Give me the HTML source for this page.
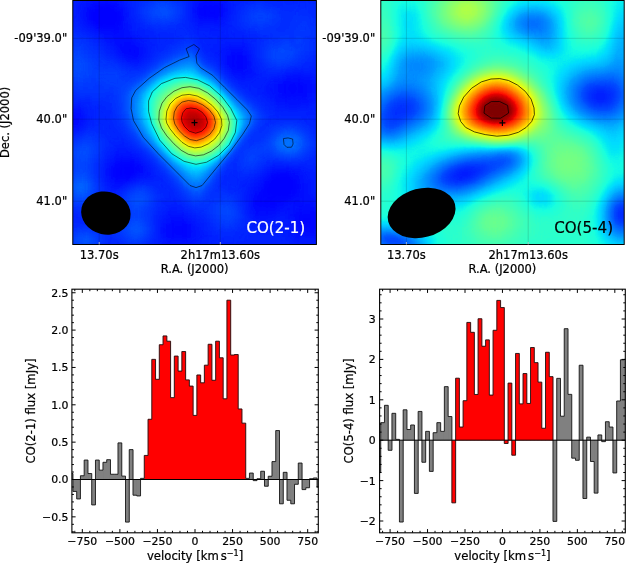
<!DOCTYPE html>
<html><head><meta charset="utf-8"><title>CO spectra</title>
<style>html,body{margin:0;padding:0;background:#fff}svg{display:block;filter:blur(.35px)}text{font-family:"DejaVu Sans", "Liberation Sans", sans-serif;fill:#000;stroke:#000;stroke-width:.22px}</style>
</head><body>
<svg width="626" height="563" viewBox="0 0 626 563">
<defs><clipPath id="clip1"><rect x="72.8" y="0.5" width="243.6" height="244"/></clipPath><filter id="jet1" filterUnits="userSpaceOnUse" x="64.8" y="-7.5" width="260" height="260" color-interpolation-filters="sRGB"><feGaussianBlur stdDeviation="2.5"/><feComponentTransfer><feFuncR type="table" tableValues="0 0 0 0 0 0 0 0 0 0 0 0 0 0 0 0 0 0 0 0 0 0 0 0 0 0 0 0 0 0 0 0 0 0 0 0 0.032 0.065 0.097 0.129 0.161 0.194 0.226 0.258 0.29 0.323 0.355 0.387 0.419 0.452 0.484 0.516 0.548 0.581 0.613 0.645 0.677 0.71 0.742 0.774 0.806 0.839 0.871 0.903 0.935 0.968 1 1 1 1 1 1 1 1 1 1 1 1 1 1 1 1 1 1 1 1 1 1 1 1 0.955 0.909 0.864 0.818 0.773 0.727 0.682 0.636 0.591 0.545 0.5"/><feFuncG type="table" tableValues="0 0 0 0 0 0 0 0 0 0 0 0 0 0.02 0.06 0.1 0.14 0.18 0.22 0.26 0.3 0.34 0.38 0.42 0.46 0.5 0.54 0.58 0.62 0.66 0.7 0.74 0.78 0.82 0.86 0.9 0.94 0.98 1 1 1 1 1 1 1 1 1 1 1 1 1 1 1 1 1 1 1 1 1 1 1 1 1 1 1 0.963 0.926 0.889 0.852 0.815 0.778 0.741 0.704 0.667 0.63 0.593 0.556 0.519 0.481 0.444 0.407 0.37 0.333 0.296 0.259 0.222 0.185 0.148 0.111 0.074 0.037 0 0 0 0 0 0 0 0 0 0"/><feFuncB type="table" tableValues="0.5 0.545 0.591 0.636 0.682 0.727 0.773 0.818 0.864 0.909 0.955 1 1 1 1 1 1 1 1 1 1 1 1 1 1 1 1 1 1 1 1 1 1 1 1 0.968 0.935 0.903 0.871 0.839 0.806 0.774 0.742 0.71 0.677 0.645 0.613 0.581 0.548 0.516 0.484 0.452 0.419 0.387 0.355 0.323 0.29 0.258 0.226 0.194 0.161 0.129 0.097 0.065 0.032 0 0 0 0 0 0 0 0 0 0 0 0 0 0 0 0 0 0 0 0 0 0 0 0 0 0 0 0 0 0 0 0 0 0 0 0"/><feFuncA type="linear" slope="0" intercept="1"/></feComponentTransfer></filter><clipPath id="clip2"><rect x="380.8" y="0.5" width="243.4" height="244"/></clipPath><filter id="jet2" filterUnits="userSpaceOnUse" x="372.8" y="-7.5" width="260" height="260" color-interpolation-filters="sRGB"><feGaussianBlur stdDeviation="2.5"/><feComponentTransfer><feFuncR type="table" tableValues="0 0 0 0 0 0 0 0 0 0 0 0 0 0 0 0 0 0 0 0 0 0 0 0 0 0 0 0 0 0 0 0 0 0 0 0 0.032 0.065 0.097 0.129 0.161 0.194 0.226 0.258 0.29 0.323 0.355 0.387 0.419 0.452 0.484 0.516 0.548 0.581 0.613 0.645 0.677 0.71 0.742 0.774 0.806 0.839 0.871 0.903 0.935 0.968 1 1 1 1 1 1 1 1 1 1 1 1 1 1 1 1 1 1 1 1 1 1 1 1 0.955 0.909 0.864 0.818 0.773 0.727 0.682 0.636 0.591 0.545 0.5"/><feFuncG type="table" tableValues="0 0 0 0 0 0 0 0 0 0 0 0 0 0.02 0.06 0.1 0.14 0.18 0.22 0.26 0.3 0.34 0.38 0.42 0.46 0.5 0.54 0.58 0.62 0.66 0.7 0.74 0.78 0.82 0.86 0.9 0.94 0.98 1 1 1 1 1 1 1 1 1 1 1 1 1 1 1 1 1 1 1 1 1 1 1 1 1 1 1 0.963 0.926 0.889 0.852 0.815 0.778 0.741 0.704 0.667 0.63 0.593 0.556 0.519 0.481 0.444 0.407 0.37 0.333 0.296 0.259 0.222 0.185 0.148 0.111 0.074 0.037 0 0 0 0 0 0 0 0 0 0"/><feFuncB type="table" tableValues="0.5 0.545 0.591 0.636 0.682 0.727 0.773 0.818 0.864 0.909 0.955 1 1 1 1 1 1 1 1 1 1 1 1 1 1 1 1 1 1 1 1 1 1 1 1 0.968 0.935 0.903 0.871 0.839 0.806 0.774 0.742 0.71 0.677 0.645 0.613 0.581 0.548 0.516 0.484 0.452 0.419 0.387 0.355 0.323 0.29 0.258 0.226 0.194 0.161 0.129 0.097 0.065 0.032 0 0 0 0 0 0 0 0 0 0 0 0 0 0 0 0 0 0 0 0 0 0 0 0 0 0 0 0 0 0 0 0 0 0 0 0"/><feFuncA type="linear" slope="0" intercept="1"/></feComponentTransfer></filter></defs>
<rect width="626" height="563" fill="#fff"/>
<g clip-path="url(#clip1)"><g filter="url(#jet1)"><g transform="translate(64.8 -7.5)" stroke-width="4.3" fill="none">
<path stroke="#1d1d1d" d="M36 22h8M36 26h8"/>
<path stroke="#1e1e1e" d="M36 18h8M32 22h4M44 22h4M32 26h4M44 26h4M36 30h8M212 190h12M208 194h16M208 198h12"/>
<path stroke="#1f1f1f" d="M32 18h4M44 18h4M28 22h4M48 22h4M28 26h4M48 26h4M32 30h4M44 30h4M60 174h4M56 178h12M56 182h8M212 186h12M208 190h4M224 190h4M204 194h4M224 194h4M204 198h4M220 198h4M204 202h16"/>
<path stroke="#202020" d="M36 14h8M28 18h4M48 18h4M140 18h12M140 22h8M28 30h4M48 30h4M36 34h12M52 174h8M64 174h4M52 178h4M68 178h4M52 182h4M64 182h4M216 182h4M208 186h4M224 186h4M204 190h4M200 198h4M224 198h4M200 202h4M220 202h4M196 206h20M196 210h12M240 226h4M240 230h4M112 238h4"/>
<path stroke="#212121" d="M32 14h4M44 14h4M136 14h16M24 18h4M136 18h4M24 22h4M52 22h4M136 22h4M148 22h4M24 26h4M52 26h4M52 30h4M32 34h4M48 34h4M60 58h8M168 66h8M168 70h12M168 74h8M220 94h16M220 98h16M224 102h8M56 170h12M68 174h4M48 178h4M48 182h4M68 182h4M208 182h8M220 182h4M52 186h12M204 186h4M200 190h4M228 190h4M200 194h4M228 194h4M196 198h4M228 198h4M196 202h4M224 202h4M192 206h4M216 206h8M192 210h4M208 210h4M192 214h16M236 222h12M236 226h4M244 226h4M236 230h4M244 230h4M108 234h12M240 234h8M104 238h8M116 238h4M108 242h12"/>
<path stroke="#222222" d="M36 10h8M140 10h8M28 14h4M48 14h4M152 14h4M52 18h4M132 18h4M152 18h4M132 22h4M152 22h4M56 26h4M136 26h16M24 30h4M28 34h4M52 34h4M40 38h12M60 50h4M56 54h16M56 58h4M68 58h4M60 62h12M168 62h8M164 66h4M176 66h4M164 70h4M164 74h4M176 74h4M168 78h8M220 90h16M216 94h4M236 94h4M216 98h4M236 98h4M220 102h4M232 102h8M8 126h4M8 130h4M52 170h4M68 170h4M48 174h4M72 174h4M72 178h4M224 182h4M48 186h4M64 186h4M228 186h4M196 194h4M232 194h4M192 202h4M228 202h4M224 206h4M188 210h4M212 210h8M208 214h4M192 218h12M236 218h12M232 222h4M248 222h4M232 226h4M248 226h4M108 230h12M232 230h4M248 230h4M104 234h4M120 234h4M236 234h4M248 234h4M120 238h4M236 238h12M104 242h4M120 242h4M108 246h12"/>
<path stroke="#232323" d="M28 10h8M44 10h8M136 10h4M148 10h8M24 14h4M52 14h4M132 14h4M156 14h4M20 18h4M56 18h4M156 18h4M20 22h4M56 22h4M156 22h4M20 26h4M152 26h4M56 30h4M56 34h4M32 38h8M52 38h4M48 42h8M52 46h8M52 50h8M64 50h4M52 54h4M72 58h4M168 58h8M72 62h4M164 62h4M176 62h4M68 66h4M160 66h4M180 66h4M160 70h4M180 70h4M180 74h4M176 78h4M224 86h12M216 90h4M236 90h8M212 94h4M240 94h4M212 98h4M240 98h4M216 102h4M240 102h4M220 106h20M8 122h8M4 126h4M12 126h4M4 130h4M12 130h4M8 134h4M56 166h12M48 170h4M72 170h4M44 174h4M76 174h4M44 178h4M76 178h4M208 178h16M44 182h4M72 182h4M204 182h4M228 182h4M44 186h4M200 186h4M232 186h4M52 190h8M196 190h4M232 190h4M192 198h4M232 198h4M188 202h4M232 202h4M188 206h4M228 206h8M220 210h20M188 214h4M212 214h8M228 214h20M188 218h4M204 218h8M232 218h4M248 218h4M192 222h12M228 222h4M252 222h4M108 226h8M228 226h4M252 226h4M104 230h4M120 230h4M252 230h4M100 234h4M124 234h4M232 234h4M252 234h4M100 238h4M124 238h4M232 238h4M248 238h4M100 242h4M124 242h4M240 242h8M104 246h4M120 246h4"/>
<path stroke="#242424" d="M36 6h8M140 6h8M24 10h4M52 10h4M132 10h4M156 10h4M20 14h4M56 14h4M128 14h4M128 18h4M16 22h4M128 22h4M132 26h4M156 26h4M20 30h4M136 30h16M24 34h4M56 38h4M40 42h8M56 42h8M48 46h4M60 46h8M48 50h4M68 50h4M72 54h4M52 58h4M76 58h4M164 58h4M176 58h4M56 62h4M160 62h4M180 62h4M60 66h8M72 66h4M160 74h4M164 78h4M180 78h4M168 82h12M220 86h4M236 86h8M212 90h4M244 90h4M208 94h4M244 94h4M208 98h4M244 98h4M212 102h4M244 102h4M212 106h8M240 106h4M220 110h16M8 118h8M4 122h4M16 126h4M4 134h4M12 134h4M48 166h8M68 166h4M224 178h4M76 182h4M200 182h4M232 182h4M68 186h4M196 186h4M236 186h4M48 190h4M60 190h4M236 190h4M192 194h4M236 194h4M188 198h4M236 198h4M236 202h4M184 206h4M236 206h8M184 210h4M240 210h8M184 214h4M220 214h8M248 214h4M212 218h20M252 218h4M188 222h4M204 222h8M224 222h4M104 226h4M116 226h4M196 226h4M256 226h4M100 230h4M124 230h4M228 230h4M256 230h4M96 234h4M228 234h4M96 238h4M128 238h4M252 238h4M96 242h4M128 242h4M232 242h8M248 242h4M100 246h4M124 246h4M104 250h20"/>
<path stroke="#252525" d="M28 6h8M44 6h8M132 6h8M148 6h8M20 10h4M128 10h4M16 14h4M160 14h4M16 18h4M60 18h4M160 18h4M60 22h4M160 22h4M16 26h4M60 26h4M128 26h4M16 30h4M60 30h4M132 30h4M152 30h4M20 34h4M60 34h4M28 38h4M60 38h4M36 42h4M64 42h4M40 46h8M68 46h4M44 50h4M72 50h4M48 54h4M76 54h4M164 54h16M160 58h4M180 58h4M52 62h4M76 62h4M156 62h4M156 66h4M184 66h4M156 70h4M184 70h4M184 74h4M184 78h4M180 82h8M228 82h8M172 86h8M216 86h4M244 86h4M208 90h4M248 90h4M204 94h4M248 94h4M204 98h4M248 98h4M208 102h4M248 102h4M208 106h4M244 106h4M212 110h8M236 110h8M224 114h8M4 118h4M0 122h4M16 122h4M0 126h4M0 130h4M16 130h4M52 162h16M72 166h4M44 170h4M76 170h4M40 174h4M80 174h4M40 178h4M80 178h4M204 178h4M228 178h8M40 182h4M80 182h4M236 182h4M40 186h4M72 186h4M44 190h4M192 190h4M240 190h4M48 194h8M188 194h4M240 194h4M184 198h4M240 198h4M184 202h4M240 202h4M244 206h4M248 210h4M252 214h4M184 218h4M256 218h4M104 222h16M212 222h12M256 222h4M100 226h4M120 226h4M188 226h8M200 226h8M224 226h4M96 230h4M128 230h4M224 230h4M128 234h4M224 234h4M256 234h4M132 238h4M228 238h4M256 238h4M132 242h4M228 242h4M252 242h4M96 246h4M128 246h4M232 246h20M100 250h4M124 250h4M104 254h16"/>
<path stroke="#262626" d="M28 2h24M132 2h24M20 6h8M52 6h8M128 6h4M156 6h8M16 10h4M56 10h4M160 10h4M12 14h4M60 14h4M164 14h4M12 18h4M164 18h4M12 22h4M12 26h4M160 26h4M64 30h4M128 30h4M156 30h4M64 34h4M132 34h24M24 38h4M64 38h4M32 42h4M68 42h4M36 46h4M72 46h4M40 50h4M76 50h4M160 50h20M44 54h4M80 54h4M156 54h8M180 54h4M48 58h4M80 58h4M156 58h4M80 62h4M152 62h4M184 62h4M56 66h4M76 66h4M64 70h12M160 78h4M188 78h4M164 82h4M188 82h4M220 82h8M236 82h12M180 86h8M208 86h8M248 86h4M204 90h4M252 90h4M200 94h4M252 94h4M200 98h4M252 98h4M200 102h8M252 102h4M204 106h4M248 106h4M208 110h4M244 110h8M4 114h12M212 114h12M232 114h12M0 118h4M16 118h4M20 126h4M0 134h4M16 134h4M4 138h12M52 158h12M48 162h4M68 162h4M44 166h4M40 170h4M208 174h16M84 178h4M200 178h4M236 178h4M84 182h4M196 182h4M240 182h4M76 186h4M192 186h4M240 186h4M40 190h4M64 190h4M188 190h4M244 190h4M44 194h4M56 194h4M184 194h4M244 194h4M244 198h4M180 202h4M244 202h8M180 206h4M248 206h8M252 210h8M256 214h4M104 218h8M100 222h4M120 222h4M184 222h4M96 226h4M124 226h4M208 226h16M188 230h24M216 230h8M132 234h4M220 234h4M224 238h4M136 242h4M224 242h4M256 242h4M132 246h4M228 246h4M252 246h8M96 250h4M128 250h8M232 250h24M96 254h8M120 254h12M104 258h16"/>
<path stroke="#272727" d="M16 2h12M52 2h8M128 2h4M156 2h12M8 6h12M60 6h4M124 6h4M164 6h4M8 10h8M60 10h4M124 10h4M164 10h4M4 14h8M124 14h4M4 18h8M64 18h4M124 18h4M4 22h8M64 22h4M124 22h4M164 22h4M8 26h4M64 26h4M124 26h4M164 26h4M12 30h4M160 30h4M16 34h4M68 34h4M128 34h4M156 34h8M20 38h4M68 38h4M132 38h28M28 42h4M72 42h8M144 42h20M32 46h4M76 46h8M152 46h28M80 50h4M152 50h8M180 50h4M40 54h4M84 54h4M148 54h8M184 54h4M44 58h4M84 58h4M148 58h8M184 58h4M48 62h4M148 62h4M52 66h4M80 66h4M152 66h4M60 70h4M188 70h4M156 74h4M188 74h4M236 78h16M192 82h4M216 82h4M248 82h12M168 86h4M188 86h20M252 86h8M172 90h32M256 90h4M184 94h16M256 94h4M192 98h8M256 98h4M196 102h4M256 102h4M200 106h4M252 106h8M204 110h4M252 110h8M0 114h4M16 114h4M208 114h4M244 114h12M20 118h4M216 118h36M20 122h4M20 130h4M0 138h4M52 154h8M48 158h4M64 158h4M44 162h4M72 162h4M40 166h4M76 166h4M80 170h4M84 174h4M204 174h4M224 174h12M36 178h4M240 178h8M36 182h4M244 182h8M80 186h8M188 186h4M244 186h8M68 190h4M184 190h4M248 190h8M40 194h4M180 194h4M248 194h8M44 198h8M180 198h4M248 198h12M252 202h8M256 206h4M180 210h4M104 214h8M180 214h4M100 218h4M112 218h8M180 218h4M96 222h4M124 222h4M92 226h4M128 226h4M184 226h4M92 230h4M132 230h4M184 230h4M212 230h4M92 234h4M136 234h4M188 234h32M92 238h4M136 238h4M192 238h32M92 242h4M140 242h4M216 242h8M92 246h4M136 246h8M220 246h8M92 250h4M136 250h8M224 250h8M256 250h4M92 254h4M132 254h8M228 254h32M92 258h12M120 258h16M232 258h24"/>
<path stroke="#282828" d="M0 2h16M60 2h12M120 2h8M168 2h16M212 2h16M252 2h8M0 6h8M64 6h4M168 6h8M256 6h4M0 10h8M64 10h4M168 10h8M0 14h4M64 14h4M168 14h4M0 18h4M168 18h4M0 22h4M0 26h8M68 26h4M0 30h12M68 30h4M124 30h4M164 30h4M12 34h4M72 34h4M124 34h4M164 34h4M16 38h4M72 38h8M128 38h4M160 38h12M24 42h4M80 42h8M132 42h12M164 42h16M28 46h4M84 46h8M136 46h16M180 46h4M36 50h4M84 50h8M136 50h16M184 50h4M88 54h4M140 54h8M40 58h4M144 58h4M188 58h4M44 62h4M84 62h4M144 62h4M188 62h4M148 66h4M188 66h4M56 70h4M76 70h4M152 70h4M256 70h4M68 74h4M192 74h4M248 74h12M192 78h4M228 78h8M252 78h8M160 82h4M196 82h20M164 86h4M176 94h8M184 98h8M188 102h8M196 106h4M0 110h16M200 110h4M20 114h4M204 114h4M256 114h4M24 118h4M208 118h8M252 118h8M24 122h4M212 122h48M24 126h4M240 126h20M24 130h4M252 130h8M20 134h4M256 134h4M16 138h4M0 142h12M48 150h12M48 154h4M60 154h4M44 158h4M68 158h4M40 162h4M256 166h4M36 170h4M252 170h8M36 174h4M200 174h4M236 174h24M88 178h4M196 178h4M248 178h12M88 182h4M192 182h4M252 182h8M36 186h4M88 186h8M184 186h4M252 186h8M72 190h4M176 190h8M256 190h4M60 194h4M176 194h4M256 194h4M40 198h4M52 198h4M176 198h4M44 202h8M176 202h4M176 206h4M100 210h12M100 214h4M112 214h8M96 218h4M120 218h4M36 222h4M92 222h4M128 222h4M180 222h4M0 226h4M36 226h4M132 226h4M136 230h4M140 234h4M184 234h4M140 238h4M184 238h8M144 242h4M184 242h32M144 246h8M180 246h40M88 250h4M144 250h12M172 250h52M88 254h4M140 254h88M84 258h8M136 258h96M256 258h4"/>
<path stroke="#292929" d="M72 2h8M116 2h4M184 2h28M228 2h24M68 6h4M120 6h4M176 6h16M200 6h56M68 10h4M120 10h4M176 10h4M216 10h16M244 10h16M68 14h4M120 14h4M172 14h4M252 14h8M68 18h4M120 18h4M252 18h8M68 22h4M120 22h4M168 22h4M256 22h4M120 26h4M168 26h4M256 26h4M72 30h4M120 30h4M168 30h4M0 34h12M76 34h4M120 34h4M168 34h4M12 38h4M80 38h8M124 38h4M172 38h4M20 42h4M88 42h20M128 42h4M180 42h4M92 46h16M132 46h4M184 46h8M32 50h4M92 50h12M132 50h4M188 50h4M256 50h4M36 54h4M92 54h8M136 54h4M188 54h4M256 54h4M88 58h4M136 58h8M256 58h4M40 62h4M88 62h4M140 62h4M252 62h8M48 66h4M84 66h4M144 66h4M252 66h8M80 70h4M192 70h4M248 70h8M64 74h4M72 74h4M152 74h4M236 74h12M156 78h4M196 78h4M220 78h8M168 90h4M172 94h4M180 98h4M184 102h4M4 106h4M192 106h4M16 110h8M196 110h4M24 114h12M200 114h4M28 118h12M204 118h4M28 122h16M208 122h4M28 126h16M212 126h28M28 130h20M240 130h12M24 134h4M36 134h12M248 134h8M40 138h12M252 138h8M12 142h4M40 142h16M256 142h4M44 146h16M256 146h4M44 150h4M60 150h4M256 150h4M44 154h4M64 154h4M256 154h4M40 158h4M72 158h4M256 158h4M76 162h4M252 162h8M80 166h4M248 166h8M84 170h4M208 170h8M240 170h12M88 174h4M92 182h4M160 182h12M188 182h4M96 186h4M160 186h24M36 190h4M76 190h24M160 190h16M92 194h12M164 194h12M56 198h4M96 198h12M172 198h4M40 202h4M52 202h4M96 202h12M40 206h12M96 206h16M36 210h12M96 210h4M112 210h4M176 210h4M36 214h12M96 214h4M0 218h4M32 218h20M92 218h4M124 218h4M0 222h12M20 222h16M40 222h8M132 222h4M4 226h32M40 226h8M88 226h4M136 226h4M180 226h4M0 230h48M88 230h4M140 230h4M180 230h4M0 234h4M36 234h8M88 234h4M180 234h4M88 238h4M144 238h4M176 238h8M88 242h4M148 242h4M172 242h12M88 246h4M152 246h28M156 250h16M44 254h12M84 254h4M40 258h28M76 258h8"/>
<path stroke="#2a2a2a" d="M80 2h8M108 2h8M72 6h8M116 6h4M192 6h8M72 10h4M180 10h8M204 10h12M232 10h12M176 14h4M216 14h36M172 18h4M224 18h4M244 18h8M172 22h4M248 22h8M72 26h4M252 26h4M76 30h4M116 30h4M172 30h4M252 30h8M80 34h4M112 34h8M172 34h4M256 34h4M0 38h12M88 38h36M176 38h8M256 38h4M0 42h4M16 42h4M108 42h20M184 42h8M256 42h4M24 46h4M108 46h8M128 46h4M192 46h4M252 46h8M28 50h4M104 50h8M192 50h4M252 50h4M32 54h4M100 54h4M132 54h4M192 54h4M252 54h4M36 58h4M92 58h8M192 58h4M252 58h4M192 62h4M248 62h4M44 66h4M192 66h4M244 66h8M52 70h4M148 70h4M240 70h8M60 74h4M76 74h4M196 74h4M232 74h4M200 78h20M176 98h4M180 102h4M0 106h4M8 106h16M188 106h4M24 110h16M192 110h4M36 114h8M196 114h4M40 118h8M200 118h4M44 122h4M204 122h4M44 126h4M204 126h8M48 130h4M204 130h4M236 130h4M28 134h8M48 134h4M244 134h4M20 138h4M32 138h8M52 138h4M248 138h4M36 142h4M56 142h4M252 142h4M0 146h8M40 146h4M60 146h4M252 146h4M40 150h4M64 150h4M252 150h4M40 154h4M68 154h4M252 154h4M252 158h4M36 162h4M248 162h4M36 166h4M244 166h4M200 170h8M216 170h24M32 174h4M164 174h8M196 174h4M32 178h4M92 178h4M160 178h12M192 178h4M32 182h4M96 182h4M172 182h16M156 186h4M100 190h4M156 190h4M36 194h4M64 194h4M88 194h4M104 194h4M156 194h8M36 198h4M92 198h4M108 198h4M164 198h8M36 202h4M108 202h4M172 202h4M36 206h4M52 206h4M112 206h4M172 206h4M48 210h4M92 210h4M116 210h4M32 214h4M48 214h4M92 214h4M120 214h4M176 214h4M4 218h4M24 218h8M128 218h4M176 218h4M12 222h8M48 222h4M88 222h4M136 222h4M48 226h4M140 226h4M48 230h4M176 230h4M4 234h8M28 234h8M44 234h4M144 234h4M176 234h4M0 238h4M40 238h8M148 238h4M172 238h4M44 242h4M152 242h20M44 246h4M44 250h12M84 250h4M40 254h4M56 254h4M80 254h4M0 258h4M36 258h4M68 258h8"/>
<path stroke="#2b2b2b" d="M88 2h20M80 6h4M112 6h4M116 10h4M188 10h16M72 14h4M180 14h4M208 14h8M72 18h4M176 18h4M216 18h8M228 18h16M72 22h4M220 22h16M240 22h8M116 26h4M172 26h4M220 26h8M248 26h4M220 30h4M248 30h4M84 34h12M104 34h8M176 34h4M216 34h8M252 34h4M184 38h8M212 38h8M252 38h4M4 42h12M192 42h16M252 42h4M0 46h4M20 46h4M116 46h12M196 46h8M24 50h4M112 50h4M128 50h4M196 50h4M248 50h4M28 54h4M104 54h4M248 54h4M32 58h4M100 58h4M248 58h4M36 62h4M92 62h4M136 62h4M244 62h4M40 66h4M88 66h4M140 66h4M240 66h4M48 70h4M84 70h4M144 70h4M196 70h4M236 70h4M56 74h4M80 74h4M200 74h4M224 74h8M64 78h12M156 82h4M160 86h4M164 90h4M168 94h4M0 102h12M24 106h20M184 106h4M40 110h8M188 110h4M44 114h4M192 114h4M196 118h4M48 122h4M200 122h4M48 126h4M200 126h4M52 130h4M200 130h4M208 130h28M52 134h4M196 134h8M240 134h4M24 138h8M56 138h4M192 138h8M244 138h4M16 142h4M32 142h4M192 142h4M248 142h4M8 146h4M36 146h4M188 146h4M248 146h4M0 150h4M36 150h4M36 154h4M36 158h4M76 158h4M248 158h4M80 162h4M84 166h4M240 166h4M32 170h4M88 170h4M164 170h8M172 178h4M188 178h4M156 182h4M32 186h4M100 186h4M104 190h4M152 190h4M68 194h4M84 194h4M152 194h4M60 198h4M88 198h4M152 198h12M56 202h4M92 202h4M112 202h4M168 202h4M92 206h4M116 206h4M32 210h4M52 210h4M120 210h4M172 210h4M0 214h4M28 214h4M52 214h4M88 214h4M124 214h4M8 218h16M52 218h4M88 218h4M132 218h8M52 222h4M140 222h4M176 222h4M52 226h4M176 226h4M144 230h4M12 234h16M48 234h4M148 234h4M172 234h4M4 238h4M36 238h4M48 238h4M152 238h8M164 238h8M0 242h4M40 242h4M48 242h4M40 246h4M48 246h4M84 246h4M40 250h4M56 250h4M80 250h4M0 254h4M36 254h4M60 254h20M4 258h4M32 258h4"/>
<path stroke="#2c2c2c" d="M84 6h4M108 6h4M76 10h4M116 14h4M184 14h4M200 14h8M116 18h4M180 18h4M212 18h4M116 22h4M176 22h4M212 22h8M236 22h4M76 26h4M176 26h4M216 26h4M228 26h20M80 30h8M112 30h4M176 30h4M212 30h8M224 30h12M244 30h4M96 34h8M180 34h4M208 34h8M224 34h8M244 34h8M192 38h20M220 38h8M248 38h4M208 42h20M248 42h4M4 46h16M204 46h8M244 46h8M0 50h4M20 50h4M116 50h4M200 50h4M244 50h4M24 54h4M108 54h4M196 54h4M244 54h4M28 58h4M104 58h4M132 58h4M196 58h4M244 58h4M32 62h4M96 62h4M240 62h4M36 66h4M92 66h4M196 66h4M236 66h4M40 70h8M232 70h4M52 74h4M148 74h4M204 74h4M220 74h4M60 78h4M76 78h4M152 78h4M0 98h8M172 98h4M12 102h32M176 102h4M44 106h4M48 110h4M48 114h4M48 118h4M52 126h4M196 130h4M56 134h4M204 134h8M236 134h4M200 138h4M20 142h12M60 142h4M188 142h4M196 142h4M244 142h4M12 146h4M32 146h4M64 146h4M184 146h4M192 146h4M4 150h4M68 150h4M180 150h12M248 150h4M0 154h4M72 154h4M248 154h4M172 162h4M244 162h4M32 166h4M168 166h8M204 166h4M236 166h4M0 170h4M172 170h4M196 170h4M0 174h4M28 174h4M92 174h4M160 174h4M172 174h4M192 174h4M28 178h4M96 178h4M176 178h12M100 182h4M152 186h4M32 190h4M32 194h4M80 194h4M108 194h4M148 194h4M112 198h4M148 198h4M32 202h4M88 202h4M144 202h24M32 206h4M144 206h4M168 206h4M0 210h4M28 210h4M88 210h4M4 214h8M24 214h4M56 214h4M128 214h16M172 214h4M56 218h4M84 218h4M140 218h4M56 222h4M84 222h4M84 226h4M144 226h4M52 230h4M84 230h4M148 230h4M172 230h4M152 234h4M168 234h4M32 238h4M160 238h4M36 242h4M84 242h4M0 246h4M52 246h4M0 250h4M36 250h4M8 258h4M28 258h4"/>
<path stroke="#2d2d2d" d="M88 6h20M80 10h4M112 10h4M76 14h4M188 14h12M76 18h4M208 18h4M76 22h4M180 22h4M80 26h4M112 26h4M212 26h4M88 30h4M104 30h8M180 30h4M208 30h4M236 30h8M184 34h8M200 34h8M232 34h12M228 38h20M228 42h8M240 42h8M212 46h16M240 46h4M4 50h16M120 50h8M204 50h4M240 50h4M0 54h4M20 54h4M112 54h4M128 54h4M200 54h4M240 54h4M24 58h4M240 58h4M28 62h4M100 62h4M196 62h4M236 62h4M32 66h4M136 66h4M232 66h4M32 70h8M88 70h4M140 70h4M200 70h4M228 70h4M40 74h12M84 74h4M208 74h12M56 78h4M60 82h16M0 90h4M0 94h4M32 94h4M8 98h40M44 102h8M48 106h4M180 106h4M184 110h4M52 118h4M52 122h4M196 122h4M196 126h4M56 130h4M192 134h4M212 134h4M232 134h4M60 138h4M188 138h4M204 138h4M240 138h4M184 142h4M200 142h4M28 146h4M196 146h4M32 150h4M192 150h4M32 154h4M176 154h12M0 158h4M32 158h4M172 158h8M244 158h4M0 162h4M32 162h4M168 162h4M176 162h4M240 162h4M0 166h4M196 166h8M208 166h8M28 170h4M192 170h4M176 174h4M188 174h4M0 178h4M156 178h4M28 182h4M104 186h4M148 190h4M72 194h8M32 198h4M84 198h4M144 198h4M116 202h4M56 206h4M88 206h4M120 206h4M140 206h4M148 206h8M164 206h4M56 210h4M124 210h4M136 210h12M168 210h4M12 214h12M144 214h4M144 218h4M172 218h4M144 222h4M172 222h4M56 226h4M148 226h4M172 226h4M52 234h4M84 234h4M156 234h12M8 238h4M28 238h4M52 238h4M84 238h4M4 242h4M52 242h4M36 246h4M56 246h4M80 246h4M60 250h4M76 250h4M4 254h4M32 254h4M12 258h4M24 258h4"/>
<path stroke="#2e2e2e" d="M84 10h4M108 10h4M80 14h4M112 14h4M184 18h8M200 18h8M112 22h4M208 22h4M180 26h4M208 26h4M92 30h12M184 30h4M204 30h4M192 34h8M236 42h4M228 46h12M208 50h8M228 50h12M4 54h4M16 54h4M116 54h4M236 54h4M0 58h4M20 58h4M108 58h4M200 58h4M236 58h4M0 62h4M24 62h4M132 62h4M200 62h4M232 62h4M28 66h4M96 66h4M200 66h4M28 70h4M204 70h4M224 70h4M32 74h8M36 78h20M80 78h4M56 82h4M0 86h4M56 86h12M28 90h12M4 94h8M20 94h12M36 94h12M48 98h4M52 106h4M52 110h4M52 114h4M188 114h4M192 118h4M192 130h4M216 134h16M236 138h4M64 142h4M16 146h4M24 146h4M68 146h4M180 146h4M244 146h4M8 150h4M196 150h4M244 150h4M4 154h4M188 154h4M244 154h4M80 158h4M180 158h4M84 162h4M200 162h4M28 166h4M88 166h4M164 166h4M176 166h4M216 166h4M228 166h8M4 170h4M160 170h4M176 170h4M4 174h4M180 174h8M0 182h4M152 182h4M28 186h4M108 190h4M112 194h4M64 198h4M60 202h4M140 202h4M0 206h4M28 206h4M156 206h8M4 210h4M24 210h4M128 210h8M148 210h8M84 214h4M148 214h4M60 218h4M80 218h4M60 222h4M80 222h4M148 222h4M80 226h4M56 230h4M152 230h4M168 230h4M12 238h4M24 238h4M32 242h4M4 250h4M64 250h12M16 258h8"/>
<path stroke="#2f2f2f" d="M88 10h4M104 10h4M80 18h4M112 18h4M192 18h8M80 22h4M184 22h4M204 22h4M84 26h4M108 26h4M184 26h4M204 26h4M188 30h16M216 50h12M8 54h8M120 54h8M204 54h8M228 54h8M4 58h4M16 58h4M112 58h4M232 58h4M20 62h4M104 62h4M0 66h4M24 66h4M228 66h4M0 70h4M92 70h4M208 70h16M0 74h4M28 74h4M144 74h4M0 78h4M28 78h8M0 82h4M28 82h28M76 82h4M28 86h28M68 86h4M156 86h4M4 90h8M20 90h8M40 90h24M160 90h4M12 94h8M48 94h8M164 94h4M52 98h4M168 98h4M52 102h4M56 126h4M60 134h4M208 138h4M204 142h4M240 142h4M20 146h4M200 146h4M12 150h4M28 150h4M72 150h4M176 150h4M28 154h4M76 154h4M172 154h4M192 154h8M4 158h4M184 158h4M192 158h8M240 158h4M4 162h4M28 162h4M180 162h4M192 162h8M204 162h4M236 162h4M4 166h4M192 166h4M220 166h8M24 170h4M92 170h4M180 170h12M24 174h4M96 174h4M4 178h4M24 178h4M100 178h4M0 186h4M28 190h4M144 194h4M68 198h4M80 198h4M116 198h4M0 202h4M28 202h4M84 202h4M120 202h4M60 206h4M84 206h4M124 206h4M136 206h4M8 210h4M20 210h4M60 210h4M84 210h4M156 210h12M60 214h4M168 214h4M148 218h4M168 218h4M64 222h4M76 222h4M168 222h4M60 226h4M152 226h4M168 226h4M80 230h4M156 230h12M56 234h4M16 238h8M56 238h4M8 242h4M56 242h4M80 242h4M4 246h4M32 246h4M60 246h4M76 246h4M32 250h4M8 254h4M28 254h4"/>
<path stroke="#303030" d="M92 10h12M84 14h4M108 14h4M84 22h4M108 22h4M188 22h16M88 26h8M104 26h4M188 26h16M212 54h16M8 58h8M116 58h4M128 58h4M204 58h4M228 58h4M4 62h4M16 62h4M108 62h4M204 62h4M228 62h4M4 66h4M20 66h4M100 66h4M204 66h4M224 66h4M24 70h4M136 70h4M24 74h4M88 74h4M24 78h4M148 78h4M4 82h4M24 82h4M152 82h4M4 86h8M20 86h8M12 90h8M64 90h4M56 94h4M56 98h4M172 102h4M176 106h4M56 114h4M56 118h4M56 122h4M192 122h4M192 126h4M188 134h4M64 138h4M184 138h4M232 138h4M240 146h4M16 150h4M24 150h4M200 150h4M8 154h4M200 154h4M28 158h4M188 158h4M200 158h4M184 162h8M208 162h4M8 166h4M24 166h4M180 166h12M8 170h4M8 174h4M20 174h4M156 174h4M8 178h4M4 182h4M24 182h4M104 182h4M108 186h4M148 186h4M0 190h4M0 194h4M28 194h4M0 198h4M28 198h4M72 198h8M140 198h4M64 202h4M4 206h4M24 206h4M128 206h8M12 210h8M80 214h4M152 214h4M164 214h4M64 218h4M76 218h4M152 218h4M68 222h8M152 222h4M64 226h4M76 226h4M156 226h4M164 226h4M60 230h4M80 234h4M80 238h4M28 242h4M64 246h4M12 254h4"/>
<path stroke="#313131" d="M88 14h4M104 14h4M84 18h4M108 18h4M96 26h8M208 58h8M220 58h8M8 62h8M208 62h4M220 62h8M8 66h4M16 66h4M132 66h4M208 66h16M4 70h4M20 70h4M4 74h4M20 74h4M140 74h4M4 78h4M20 78h4M84 78h4M8 82h4M16 82h8M12 86h8M72 86h4M60 94h4M56 102h4M56 106h4M56 110h4M180 110h4M184 114h4M188 118h4M60 130h4M212 138h4M68 142h4M236 142h4M204 146h4M20 150h4M240 150h4M12 154h4M24 154h4M240 154h4M8 158h4M168 158h4M204 158h4M8 162h4M24 162h4M232 162h4M12 170h12M12 174h8M12 178h12M4 186h4M24 186h4M112 190h4M80 202h4M136 202h4M80 206h4M80 210h4M64 214h4M76 214h4M156 214h8M68 218h8M156 218h4M164 218h4M156 222h4M164 222h4M68 226h8M160 226h4M76 230h4M12 242h4M24 242h4M60 242h4M8 246h4M28 246h4M68 246h8M8 250h4M28 250h4M16 254h12"/>
<path stroke="#323232" d="M92 14h12M88 18h4M104 18h4M88 22h8M104 22h4M120 58h4M216 58h4M112 62h4M212 62h8M12 66h4M104 66h4M8 70h12M96 70h4M8 74h12M8 78h12M12 82h4M80 82h4M68 90h4M60 98h4M60 126h4M216 138h4M228 138h4M180 142h4M208 142h4M72 146h4M16 154h8M204 154h4M12 158h4M24 158h4M236 158h4M12 162h4M164 162h4M212 162h4M12 166h12M152 178h4M8 182h4M20 182h4M144 190h4M116 194h4M120 198h4M4 202h4M24 202h4M68 202h4M76 202h4M124 202h4M8 206h4M20 206h4M64 206h4M64 210h4M68 214h8M160 218h4M160 222h4M64 230h4M60 234h4M60 238h4M16 242h8M76 242h4"/>
<path stroke="#333333" d="M92 18h4M100 18h4M96 22h8M124 58h4M92 74h4M76 86h4M64 94h4M60 122h4M188 130h4M64 134h4M220 138h8M176 146h4M76 150h4M204 150h4M80 154h4M16 158h8M84 158h4M208 158h4M16 162h8M88 162h4M216 162h4M228 162h4M92 166h4M96 170h4M12 182h8M4 190h4M24 190h4M140 194h4M4 198h4M24 198h4M72 202h4M128 202h8M12 206h8M68 206h4M76 206h4M68 210h4M76 210h4M68 230h8M76 234h4M76 238h4M64 242h4M72 242h4M12 246h4M12 250h4M24 250h4"/>
<path stroke="#343434" d="M96 18h4M116 62h4M128 62h4M100 70h4M144 78h4M160 94h4M164 98h4M60 102h4M60 106h4M60 114h4M60 118h4M188 122h4M188 126h4M68 138h4M212 142h4M232 142h4M208 146h4M236 146h4M236 154h4M220 162h8M160 166h4M100 174h4M104 178h4M148 182h4M8 186h4M20 186h4M4 194h4M24 194h4M136 198h4M72 206h4M72 210h4M64 234h4M72 234h4M64 238h4M68 242h4M24 246h4M16 250h4"/>
<path stroke="#353535" d="M108 66h4M136 74h4M88 78h4M148 82h4M152 86h4M72 90h4M156 90h4M168 102h4M172 106h4M60 110h4M184 118h4M64 130h4M184 134h4M172 150h4M236 150h4M208 154h4M232 158h4M108 182h4M12 186h8M112 186h4M124 198h4M8 202h4M20 202h4M68 234h4M68 238h8M16 246h8M20 250h4"/>
<path stroke="#363636" d="M120 62h4M132 70h4M84 82h4M68 94h4M64 98h4M176 110h4M180 114h4M72 142h4M216 142h4M228 142h4M208 150h4M212 158h4M156 170h4M144 186h4M8 190h4M20 190h4M116 190h4M120 194h4M8 198h4M20 198h4M12 202h8"/>
<path stroke="#373737" d="M124 62h4M112 66h4M104 70h4M96 74h4M64 126h4M180 138h4M220 142h8M212 146h4M232 146h4M12 190h8M140 190h4M8 194h4M20 194h4M128 198h8"/>
<path stroke="#383838" d="M140 78h4M80 86h4M64 102h4M68 134h4M76 146h4M232 150h4M168 154h4M212 154h4M232 154h4M216 158h4M228 158h4M152 174h4M136 194h4M12 198h8"/>
<path stroke="#393939" d="M116 66h4M128 66h4M92 78h4M76 90h4M64 122h4M184 130h4M80 150h4M212 150h4M84 154h4M220 158h8M148 178h4M12 194h8"/>
<path stroke="#3a3a3a" d="M108 70h4M72 94h4M68 98h4M64 106h4M64 110h4M64 114h4M64 118h4M184 122h4M176 142h4M216 146h4M228 146h4M88 158h4M92 162h4M96 166h4M100 170h4M112 182h4M124 194h4"/>
<path stroke="#3b3b3b" d="M120 66h4M100 74h4M88 82h4M144 82h4M184 126h4M68 130h4M72 138h4M220 146h8M228 150h4M216 154h4M228 154h4M104 174h4M108 178h4M144 182h4M116 186h4M120 190h4"/>
<path stroke="#3c3c3c" d="M124 66h4M160 98h4M164 102h4M168 106h4M172 110h4M176 114h4M180 118h4M216 150h4M224 154h4M164 158h4M140 186h4M128 194h8"/>
<path stroke="#3d3d3d" d="M112 70h4M132 74h4M136 78h4M84 86h4M148 86h4M152 90h4M156 94h4M68 102h4M68 126h4M180 134h4M76 142h4M220 150h8M220 154h4M136 190h4"/>
<path stroke="#3e3e3e" d="M128 70h4M104 74h4M96 78h4M80 90h4M72 134h4M80 146h4M172 146h4M160 162h4"/>
<path stroke="#3f3f3f" d="M116 70h4M76 94h4M72 98h4M68 106h4M68 122h4M156 166h4M124 190h4"/>
<path stroke="#404040" d="M120 70h4M108 74h4M92 82h4M140 82h4M68 110h4M68 114h4M68 118h4M84 150h4M152 170h4M112 178h4M116 182h4M120 186h4M128 190h8"/>
<path stroke="#414141" d="M124 70h4M100 78h4M180 122h4M72 130h4M180 130h4M76 138h4M176 138h4M88 154h4M92 158h4M104 170h4M108 174h4M148 174h4M144 178h4M140 182h4"/>
<path stroke="#424242" d="M176 118h4M180 126h4M96 162h4M100 166h4M136 186h4"/>
<path stroke="#434343" d="M112 74h4M132 78h4M88 86h4M72 102h4M172 114h4M168 150h4"/>
<path stroke="#444444" d="M128 74h4M144 86h4M84 90h4M168 110h4M72 126h4M80 142h4M124 186h4"/>
<path stroke="#454545" d="M116 74h4M104 78h4M96 82h4M136 82h4M80 94h4M76 98h4M160 102h4M72 106h4M164 106h4M76 134h4M120 182h4M132 186h4"/>
<path stroke="#464646" d="M120 74h4M148 90h4M152 94h4M156 98h4M72 122h4M84 146h4M128 186h4"/>
<path stroke="#474747" d="M124 74h4M72 110h4M72 114h4M72 118h4M176 134h4M172 142h4M116 178h4M136 182h4"/>
<path stroke="#484848" d="M108 78h4M176 122h4M76 130h4M88 150h4M112 174h4M140 178h4"/>
<path stroke="#494949" d="M92 86h4M80 138h4M164 154h4M108 170h4M144 174h4"/>
<path stroke="#4a4a4a" d="M100 82h4M76 102h4M176 130h4M92 154h4M124 182h4"/>
<path stroke="#4b4b4b" d="M112 78h4M128 78h4M140 86h4M172 118h4M176 126h4M96 158h4M100 162h4M104 166h4M148 170h4M128 182h8"/>
<path stroke="#4c4c4c" d="M116 78h4M132 82h4M88 90h4M80 98h4M168 114h4M76 126h4M84 142h4M120 178h4"/>
<path stroke="#4d4d4d" d="M84 94h4M76 106h4M80 134h4M160 158h4M152 166h4"/>
<path stroke="#4e4e4e" d="M120 78h8M104 82h4M164 110h4M76 122h4M156 162h4M116 174h4M136 178h4"/>
<path stroke="#4f4f4f" d="M96 86h4M144 90h4M76 110h4M76 114h4M76 118h4M172 138h4"/>
<path stroke="#505050" d="M88 146h4M168 146h4M124 178h4"/>
<path stroke="#515151" d="M136 86h4M148 94h4M160 106h4M172 122h4M80 130h4M112 170h4M140 174h4M132 178h4"/>
<path stroke="#525252" d="M108 82h4M152 98h4M80 102h4M156 102h4M84 138h4M128 178h4"/>
<path stroke="#535353" d="M128 82h4"/>
<path stroke="#545454" d="M112 82h4M92 90h4M92 150h4M144 170h4M120 174h4"/>
<path stroke="#555555" d="M100 86h4M168 118h4M80 126h4M172 126h4M172 134h4M108 166h4"/>
<path stroke="#565656" d="M116 82h12M88 94h4M84 98h4M80 106h4M96 154h4M136 174h4"/>
<path stroke="#575757" d="M132 86h4M140 90h4M80 122h4M172 130h4M84 134h4M88 142h4M100 158h4M104 162h4M124 174h4"/>
<path stroke="#585858" d="M164 114h4M80 118h4M116 170h4"/>
<path stroke="#595959" d="M80 110h4M80 114h4M128 174h8"/>
<path stroke="#5a5a5a" d="M104 86h4M148 166h4"/>
<path stroke="#5c5c5c" d="M128 86h4M96 90h4M168 122h4M84 130h4M168 142h4M164 150h4M140 170h4"/>
<path stroke="#5d5d5d" d="M144 94h4M84 102h4M160 110h4M92 146h4M120 170h4"/>
<path stroke="#5e5e5e" d="M108 86h4M88 138h4M112 166h4"/>
<path stroke="#5f5f5f" d="M124 86h4M136 90h4M92 94h4M88 98h4M148 98h4M84 126h4M152 162h4"/>
<path stroke="#606060" d="M112 86h4M100 90h4M156 106h4M160 154h4M136 170h4"/>
<path stroke="#616161" d="M116 86h8M152 102h4M84 106h4M168 138h4M96 150h4M156 158h4M124 170h4"/>
<path stroke="#626262" d="M164 118h4M168 126h4M108 162h4"/>
<path stroke="#636363" d="M84 110h4M84 122h4M100 154h4M104 158h4M144 166h4M128 170h8"/>
<path stroke="#646464" d="M84 114h4M84 118h4M88 134h4"/>
<path stroke="#656565" d="M104 90h4M96 94h4M88 102h4M168 134h4M92 142h4M164 146h4M116 166h4"/>
<path stroke="#666666" d="M132 90h4M140 94h4M92 98h4M168 130h4"/>
<path stroke="#686868" d="M108 90h4"/>
<path stroke="#696969" d="M160 114h4M148 162h4"/>
<path stroke="#6a6a6a" d="M100 94h4M88 106h4M96 146h4M160 150h4M140 166h4"/>
<path stroke="#6b6b6b" d="M128 90h4M144 98h4M88 130h4M112 162h4M120 166h4"/>
<path stroke="#6c6c6c" d="M112 90h4M164 142h4"/>
<path stroke="#6d6d6d" d="M96 98h4M92 102h4M88 110h4M156 110h4M164 122h4M92 138h4M100 150h4M156 154h4M152 158h4"/>
<path stroke="#6e6e6e" d="M116 90h4M124 90h4M148 102h4M104 154h4M108 158h4"/>
<path stroke="#6f6f6f" d="M120 90h4M104 94h4M136 94h4M152 106h4M88 114h4M88 126h4"/>
<path stroke="#707070" d="M88 118h4M88 122h4M136 166h4"/>
<path stroke="#717171" d="M124 166h4"/>
<path stroke="#727272" d="M92 106h4"/>
<path stroke="#737373" d="M100 98h4M164 138h4M116 162h4M144 162h4M128 166h8"/>
<path stroke="#747474" d="M108 94h4M96 102h4M96 142h4M160 146h4"/>
<path stroke="#757575" d="M160 118h4M164 126h4"/>
<path stroke="#767676" d="M92 134h4"/>
<path stroke="#777777" d="M132 94h4M140 98h4M92 110h4M164 134h4"/>
<path stroke="#787878" d="M112 94h4M164 130h4M100 146h4M112 158h4"/>
<path stroke="#797979" d="M104 98h4M148 158h4"/>
<path stroke="#7a7a7a" d="M104 150h4M156 150h4M108 154h4"/>
<path stroke="#7b7b7b" d="M100 102h4M96 106h4M92 114h4M152 154h4M140 162h4"/>
<path stroke="#7c7c7c" d="M116 94h4M128 94h4M144 102h4M156 114h4M120 162h4"/>
<path stroke="#7d7d7d" d="M92 118h4M92 130h4"/>
<path stroke="#7e7e7e" d="M120 94h4M160 142h4"/>
<path stroke="#7f7f7f" d="M124 94h4M108 98h4M148 106h4M152 110h4M92 122h4M96 138h4"/>
<path stroke="#808080" d="M92 126h4"/>
<path stroke="#818181" d="M136 98h4M96 110h4M160 122h4M136 162h4"/>
<path stroke="#828282" d="M124 162h4"/>
<path stroke="#838383" d="M100 142h4M116 158h4M144 158h4"/>
<path stroke="#848484" d="M104 102h4"/>
<path stroke="#858585" d="M100 106h4M156 146h4M128 162h8"/>
<path stroke="#868686" d="M160 138h4M104 146h4"/>
<path stroke="#878787" d="M112 98h4M108 150h4M112 154h4"/>
<path stroke="#888888" d="M140 102h4M156 118h4M160 126h4M96 134h4M152 150h4M148 154h4"/>
<path stroke="#898989" d="M132 98h4M96 114h4"/>
<path stroke="#8a8a8a" d="M160 134h4"/>
<path stroke="#8b8b8b" d="M160 130h4M140 158h4"/>
<path stroke="#8c8c8c" d="M144 106h4M152 114h4"/>
<path stroke="#8d8d8d" d="M116 98h4M128 98h4M148 110h4M120 158h4"/>
<path stroke="#8e8e8e" d="M96 118h4"/>
<path stroke="#8f8f8f" d="M108 102h4M100 138h4M156 142h4"/>
<path stroke="#909090" d="M120 98h8M96 130h4"/>
<path stroke="#919191" d="M136 102h4M100 110h4M96 122h4"/>
<path stroke="#929292" d="M96 126h4M144 154h4M136 158h4"/>
<path stroke="#939393" d="M104 106h4M156 122h4M104 142h4M116 154h4M124 158h4"/>
<path stroke="#959595" d="M152 146h4"/>
<path stroke="#969696" d="M108 146h4M112 150h4M148 150h4M128 158h8"/>
<path stroke="#979797" d="M140 106h4M156 138h4"/>
<path stroke="#999999" d="M112 102h4M132 102h4M152 118h4"/>
<path stroke="#9a9a9a" d="M100 114h4M156 126h4M100 134h4"/>
<path stroke="#9b9b9b" d="M144 110h4M140 154h4"/>
<path stroke="#9c9c9c" d="M148 114h4"/>
<path stroke="#9d9d9d" d="M156 134h4"/>
<path stroke="#9e9e9e" d="M156 130h4M120 154h4"/>
<path stroke="#9f9f9f" d="M128 102h4"/>
<path stroke="#a0a0a0" d="M116 102h4M108 106h4M104 110h4M104 138h4M152 142h4"/>
<path stroke="#a1a1a1" d="M100 118h4M144 150h4"/>
<path stroke="#a2a2a2" d="M120 102h8M136 106h4M136 154h4"/>
<path stroke="#a3a3a3" d="M100 130h4"/>
<path stroke="#a4a4a4" d="M100 122h4M108 142h4M148 146h4M116 150h4"/>
<path stroke="#a5a5a5" d="M152 122h4M112 146h4M124 154h4"/>
<path stroke="#a6a6a6" d="M100 126h4"/>
<path stroke="#a7a7a7" d="M132 154h4"/>
<path stroke="#a9a9a9" d="M140 110h4M128 154h4"/>
<path stroke="#aaaaaa" d="M152 138h4"/>
<path stroke="#ababab" d="M112 106h4M104 114h4M140 150h4"/>
<path stroke="#acacac" d="M132 106h4M148 118h4M104 134h4"/>
<path stroke="#adadad" d="M144 114h4"/>
<path stroke="#afafaf" d="M108 110h4M152 126h4"/>
<path stroke="#b0b0b0" d="M120 150h4"/>
<path stroke="#b1b1b1" d="M152 134h4M148 142h4M144 146h4"/>
<path stroke="#b2b2b2" d="M108 138h4"/>
<path stroke="#b3b3b3" d="M104 118h4M152 130h4"/>
<path stroke="#b4b4b4" d="M116 106h4M128 106h4M116 146h4M136 150h4"/>
<path stroke="#b5b5b5" d="M104 130h4M112 142h4"/>
<path stroke="#b7b7b7" d="M136 110h4M104 122h4"/>
<path stroke="#b8b8b8" d="M104 126h4M124 150h4"/>
<path stroke="#b9b9b9" d="M120 106h8"/>
<path stroke="#bababa" d="M132 150h4"/>
<path stroke="#bbbbbb" d="M108 114h4M148 122h4"/>
<path stroke="#bcbcbc" d="M148 138h4M140 146h4M128 150h4"/>
<path stroke="#bdbdbd" d="M112 110h4"/>
<path stroke="#bebebe" d="M108 134h4"/>
<path stroke="#bfbfbf" d="M140 114h4"/>
<path stroke="#c0c0c0" d="M144 118h4M144 142h4"/>
<path stroke="#c1c1c1" d="M120 146h4"/>
<path stroke="#c3c3c3" d="M132 110h4"/>
<path stroke="#c4c4c4" d="M108 118h4M148 134h4M112 138h4M116 142h4"/>
<path stroke="#c5c5c5" d="M148 126h4M136 146h4"/>
<path stroke="#c7c7c7" d="M108 130h4"/>
<path stroke="#c8c8c8" d="M116 110h4M148 130h4"/>
<path stroke="#c9c9c9" d="M108 122h4"/>
<path stroke="#cacaca" d="M128 110h4M112 114h4M108 126h4"/>
<path stroke="#cbcbcb" d="M124 146h4"/>
<path stroke="#cccccc" d="M136 114h4"/>
<path stroke="#cdcdcd" d="M120 110h4M144 138h4M140 142h4M132 146h4"/>
<path stroke="#cecece" d="M124 110h4M144 122h4"/>
<path stroke="#cfcfcf" d="M128 146h4"/>
<path stroke="#d0d0d0" d="M112 134h4"/>
<path stroke="#d1d1d1" d="M140 118h4"/>
<path stroke="#d3d3d3" d="M120 142h4"/>
<path stroke="#d4d4d4" d="M112 118h4M116 138h4"/>
<path stroke="#d6d6d6" d="M144 134h4"/>
<path stroke="#d7d7d7" d="M116 114h4M132 114h4M144 126h4"/>
<path stroke="#d8d8d8" d="M136 142h4"/>
<path stroke="#d9d9d9" d="M112 130h4"/>
<path stroke="#dadada" d="M112 122h4M144 130h4"/>
<path stroke="#dcdcdc" d="M112 126h4M140 138h4"/>
<path stroke="#dddddd" d="M124 142h4"/>
<path stroke="#dedede" d="M128 114h4M136 118h4M140 122h4"/>
<path stroke="#dfdfdf" d="M120 114h4M132 142h4"/>
<path stroke="#e1e1e1" d="M124 114h4M116 134h4M128 142h4"/>
<path stroke="#e2e2e2" d="M116 118h4M120 138h4"/>
<path stroke="#e5e5e5" d="M140 134h4"/>
<path stroke="#e6e6e6" d="M140 126h4"/>
<path stroke="#e7e7e7" d="M136 138h4"/>
<path stroke="#e8e8e8" d="M132 118h4M116 122h4M116 130h4M140 130h4"/>
<path stroke="#e9e9e9" d="M136 122h4"/>
<path stroke="#eaeaea" d="M120 118h4M116 126h4M124 138h4"/>
<path stroke="#ebebeb" d="M128 118h4M120 134h4M132 138h4"/>
<path stroke="#ececec" d="M124 118h4"/>
<path stroke="#ededed" d="M136 134h4M128 138h4"/>
<path stroke="#eeeeee" d="M120 122h4M136 126h4"/>
<path stroke="#efefef" d="M132 122h4"/>
<path stroke="#f0f0f0" d="M120 126h4M120 130h4M136 130h4"/>
<path stroke="#f1f1f1" d="M124 134h4"/>
<path stroke="#f2f2f2" d="M124 122h8M132 134h4"/>
<path stroke="#f3f3f3" d="M132 126h4M128 134h4"/>
<path stroke="#f4f4f4" d="M124 126h4M124 130h4M132 130h4"/>
<path stroke="#f5f5f5" d="M128 126h4"/>
<path stroke="#f6f6f6" d="M128 130h4"/>
</g></g></g>
<line x1="99.2" y1="0.5" x2="99.2" y2="244.5" stroke="#000" stroke-opacity=".18" stroke-width=".8"/>
<line x1="220.3" y1="0.5" x2="220.3" y2="244.5" stroke="#000" stroke-opacity=".18" stroke-width=".8"/>
<line x1="72.8" y1="38.3" x2="316.4" y2="38.3" stroke="#000" stroke-opacity=".18" stroke-width=".8"/>
<line x1="72.8" y1="119.2" x2="316.4" y2="119.2" stroke="#000" stroke-opacity=".18" stroke-width=".8"/>
<line x1="72.8" y1="201.2" x2="316.4" y2="201.2" stroke="#000" stroke-opacity=".18" stroke-width=".8"/>
<path d="M181.5 117.6L182.8 112.8L186 108.8L190.8 108L196.4 108.8L201.9 112L205.9 116.8L207.5 122.4L205.9 127.2L201.9 131.2L195.6 133.2L189.2 131.2L184.4 126.4L182 121.9Z" fill="none" stroke="#000" stroke-opacity=".75" stroke-width="0.75" stroke-linejoin="round"/>
<path d="M173.5 118.4L174.3 112L177.2 106.4L182 102.1L188.4 100.5L195.6 101.6L202.7 104.8L209.1 109.6L213.9 116L215.5 122.4L213.9 128.8L209.9 134.3L203.5 138.3L196.4 140.7L190 139.5L184.4 135.9L178.8 130.4L174.8 124Z" fill="none" stroke="#000" stroke-opacity=".75" stroke-width="0.75" stroke-linejoin="round"/>
<path d="M166 119.2L166.8 111.2L170 104L175.6 98.4L182 95.2L189.2 94.4L197.2 96L205.1 100L212.3 105.6L217.9 112L221.5 119.2L221.9 125.6L219.5 132.7L214.7 139.1L208.3 143.9L201.2 147.1L194.8 147.9L188.4 146.3L182 142.3L175.6 135.9L170 128.8L166.8 123.2Z" fill="none" stroke="#000" stroke-opacity=".75" stroke-width="0.75" stroke-linejoin="round"/>
<path d="M158.8 120L159.3 111.2L162 103.2L166.8 96.8L174 91.2L182 87.7L190 86.7L198.8 88.3L207.5 92.8L215.5 99.2L222.7 107.2L227.5 115.2L229.4 122.4L228.3 130.4L224.3 138.3L218.7 145.5L211.5 151.1L203.5 154.8L195.6 155.9L188.4 154.3L181.2 150.3L174 143.9L166.8 135.9L161.5 128Z" fill="none" stroke="#000" stroke-opacity=".75" stroke-width="0.75" stroke-linejoin="round"/>
<path d="M148.6 100.9L152.3 91.9L161.3 83.7L174.9 78.3L185.5 77.4L197.5 79.8L209.6 85.8L221.7 96.4L230.8 108.5L236.8 120.6L235.3 132.6L229.2 144.7L218.7 155.3L206.6 162.2L196 164.3L184 161.3L171.9 153.8L159.8 140.2L151.7 123.6L148.6 111.5Z" fill="none" stroke="#000" stroke-opacity=".75" stroke-width="0.75" stroke-linejoin="round"/>
<path d="M186.1 48.7L193.9 44.5L199.4 48.7L196 55.7L196.9 63.2L200.6 67.7L212.6 75.3L224.7 87.4L236.8 99.4L247.4 110L251.3 116L249.5 123.6L242.8 134.2L230.8 150.8L215.7 168.9L202.1 185.5L196 187.6L190 185.5L176.4 171.9L158.3 153.8L143.2 137.2L133.5 120.6L131.1 108.5L131.7 97.9L135.7 90.4L149.2 78.3L164.3 67.7L179.4 60.2L189.1 56.6Z" fill="none" stroke="#000" stroke-opacity=".75" stroke-width="0.75" stroke-linejoin="round"/>
<path d="M283.4 138.6L288 137.9L292.6 139L293.1 144L291.5 147.2L286.8 147.3L284 144.5Z" fill="none" stroke="#000" stroke-opacity=".75" stroke-width="0.75" stroke-linejoin="round"/>
<ellipse cx="105.9" cy="213.1" rx="24.9" ry="21.5" transform="rotate(13 105.9 213.1)" fill="#000"/>
<path d="M191.5 122.7h6M194.5 119.7v6" stroke="#000" stroke-width="1.2" fill="none"/>
<rect x="72.8" y="0.5" width="243.6" height="244" fill="none" stroke="#000" stroke-width="1"/>
<line x1="99.2" y1="244.5" x2="99.2" y2="242" stroke="#ccc" stroke-width=".8"/>
<line x1="220.3" y1="244.5" x2="220.3" y2="242" stroke="#ccc" stroke-width=".8"/>
<text x="246.4" y="232.5" font-size="15.1" style="fill:#fff;stroke:#fff">CO(2-1)</text>
<text x="67.2" y="42.4" font-size="11.5" text-anchor="end">-09'39.0"</text>
<text x="67.2" y="123.3" font-size="11.5" text-anchor="end">40.0"</text>
<text x="67.2" y="205.3" font-size="11.5" text-anchor="end">41.0"</text>
<text x="99.2" y="259" font-size="11.5" text-anchor="middle">13.70s</text>
<text x="220.3" y="259" font-size="11.5" text-anchor="middle">2h17m13.60s</text>
<text x="194.6" y="273.4" font-size="11.5" text-anchor="middle">R.A. (J2000)</text>
<text transform="translate(8.9 122.4) rotate(-90)" font-size="11.5" text-anchor="middle">Dec. (J2000)</text>
<g clip-path="url(#clip2)"><g filter="url(#jet2)"><g transform="translate(372.8 -7.5)" stroke-width="4.3" fill="none">
<path stroke="#262626" d="M88 182h8"/>
<path stroke="#272727" d="M92 178h4M84 182h4"/>
<path stroke="#282828" d="M224 102h8M224 106h8M88 178h4M96 178h4M96 182h4M84 186h8"/>
<path stroke="#292929" d="M220 102h4M232 102h4M220 106h4M232 106h4M84 178h4M100 178h4M80 182h4M80 186h4M92 186h4M248 222h4"/>
<path stroke="#2a2a2a" d="M224 98h8M224 110h8M100 182h4"/>
<path stroke="#2b2b2b" d="M220 98h4M232 98h4M216 102h4M236 102h4M216 106h4M236 106h4M220 110h4M232 110h4M24 118h4M96 174h8M104 178h4M76 186h4M96 186h4M248 218h4M244 222h4M248 226h4"/>
<path stroke="#2c2c2c" d="M24 114h8M20 118h4M28 118h4M20 122h8M92 174h4M104 174h4M80 178h4M76 182h4M244 218h4M244 226h4"/>
<path stroke="#2d2d2d" d="M216 98h4M236 98h4M236 110h4M32 114h4M32 118h4M28 122h4M20 126h4M88 174h4M108 178h4M104 182h4M80 190h8M252 222h4"/>
<path stroke="#2e2e2e" d="M220 94h16M240 102h4M28 110h8M216 110h4M20 114h4M36 114h4M224 114h8M16 118h4M16 122h4M32 122h4M16 126h4M24 126h4M108 174h4M72 186h4M100 186h4M88 190h4M248 214h4M252 218h4M252 226h4M248 230h4"/>
<path stroke="#2f2f2f" d="M240 98h4M212 102h4M212 106h4M240 106h4M24 110h4M220 114h4M232 114h4M36 118h4M28 126h4M16 130h8M84 174h4M112 174h4M76 178h4M72 182h4M76 190h4M92 190h4"/>
<path stroke="#303030" d="M216 94h4M236 94h4M212 98h4M20 110h4M36 110h4M16 114h4M12 122h4M12 126h4M116 174h4M112 178h4M108 182h4M244 214h4M244 230h4M20 250h8"/>
<path stroke="#313131" d="M28 106h4M212 110h4M240 110h4M40 114h4M236 114h4M40 118h4M36 122h4M12 130h4M24 130h4M100 170h12M72 190h4M252 214h4M240 222h4M252 230h4M16 246h8M16 250h4"/>
<path stroke="#323232" d="M240 94h4M244 102h4M24 106h4M32 106h4M40 110h4M216 114h4M12 118h4M32 126h4M16 134h4M96 170h4M112 170h16M80 174h4M120 174h4M116 178h4M68 186h4M104 186h4M96 190h4M240 218h4M240 226h4M12 246h4M28 250h4"/>
<path stroke="#333333" d="M224 90h12M212 94h4M244 98h4M208 102h4M36 106h4M208 106h4M244 106h4M16 110h4M228 118h4M40 122h4M28 130h4M12 134h4M20 134h4M92 170h4M128 170h4M124 174h4M72 178h4M68 182h4M248 210h4M12 250h4"/>
<path stroke="#343434" d="M220 90h4M236 90h4M208 98h4M20 106h4M12 114h4M240 114h4M224 118h4M232 118h4M8 122h4M8 126h4M36 126h4M8 130h4M112 182h4M68 190h4M80 194h8M256 222h4M248 234h4M24 246h4"/>
<path stroke="#353535" d="M216 90h4M240 90h4M244 94h4M40 106h4M244 110h4M44 114h4M212 114h4M44 118h4M220 118h4M236 118h4M24 134h4M124 166h8M88 170h4M132 170h4M76 174h4M120 178h4M100 190h4M76 194h4M244 210h4M240 214h4M256 218h4M256 226h4M240 230h4M244 234h4M8 246h4"/>
<path stroke="#363636" d="M28 102h8M44 110h4M208 110h4M8 118h4M32 130h4M8 134h4M16 138h4M120 166h4M128 174h4M64 186h4M108 186h4M72 194h4M88 194h4M252 210h4M32 250h4"/>
<path stroke="#373737" d="M208 94h4M24 102h4M36 102h4M16 106h4M12 110h4M44 122h4M40 126h4M12 138h4M116 166h4M132 166h4M84 170h4M68 178h4M116 182h4M64 190h4M252 234h4M28 246h4M8 250h4M20 254h8"/>
<path stroke="#383838" d="M228 86h12M212 90h4M244 90h4M248 98h4M204 102h4M248 102h4M44 106h4M248 106h4M8 114h4M244 114h4M216 118h4M240 118h4M28 134h4M20 138h4M108 166h8M124 178h4M64 182h4M68 194h4M92 194h4M256 214h4M256 230h4M28 254h4"/>
<path stroke="#393939" d="M224 86h4M240 86h4M204 98h4M20 102h4M40 102h4M204 106h4M48 114h4M4 122h4M228 122h4M4 126h4M4 130h4M36 130h4M8 138h4M104 166h4M136 166h4M136 170h4M72 174h4M132 174h4M104 190h4M12 242h8M16 254h4"/>
<path stroke="#3a3a3a" d="M220 86h4M248 94h4M32 98h4M48 110h4M248 110h4M208 114h4M4 118h4M48 118h4M224 122h4M232 122h4M100 166h4M80 170h4M112 186h4M248 206h4M240 210h4M240 234h4M4 246h4M36 250h4M32 254h4"/>
<path stroke="#3b3b3b" d="M160 30h4M216 86h4M244 86h4M208 90h4M204 94h4M28 98h4M36 98h4M12 106h4M8 110h4M204 110h4M212 118h4M236 122h4M44 126h4M4 134h4M24 138h4M96 166h4M128 178h4M120 182h4M60 186h4M60 190h4M64 194h4M96 194h4M236 222h4M236 226h4M248 238h4M8 242h4M20 242h4M32 246h4"/>
<path stroke="#3c3c3c" d="M156 30h4M164 30h4M156 34h8M248 90h4M24 98h4M16 102h4M44 102h4M48 106h4M4 114h4M244 118h4M48 122h4M220 122h4M40 130h4M32 134h4M92 166h4M64 178h4M76 198h8M244 206h4M252 206h4M256 210h4M236 218h4M244 238h4M4 250h4M12 254h4"/>
<path stroke="#3d3d3d" d="M164 34h4M236 82h8M212 86h4M40 98h4M248 114h4M240 122h4M12 142h8M124 162h12M136 174h4M60 182h4M108 190h4M72 198h4M84 198h4M256 234h4M252 238h4"/>
<path stroke="#3e3e3e" d="M156 26h8M152 30h4M152 34h4M232 82h4M32 94h4M20 98h4M200 98h4M252 98h4M200 102h4M252 102h4M200 106h4M252 106h4M52 114h4M216 122h4M4 138h4M88 166h4M140 166h4M76 170h4M140 170h4M68 174h4M116 186h4M60 194h4M100 194h4M68 198h4M236 214h4M236 230h4M4 242h4M24 242h4M36 254h4"/>
<path stroke="#3f3f3f" d="M164 26h4M168 30h4M168 34h4M160 38h8M224 82h8M244 82h4M248 86h4M204 90h4M28 94h4M36 94h4M44 98h4M48 102h4M8 106h4M4 110h4M52 110h4M252 110h4M204 114h4M0 118h4M52 118h4M208 118h4M0 122h4M0 126h4M48 126h4M36 134h4M28 138h4M8 142h4M20 142h4M120 162h4M136 162h4M132 178h4M124 182h4M88 198h4"/>
<path stroke="#404040" d="M152 26h4M148 30h4M156 38h4M168 38h4M220 82h4M208 86h4M24 94h4M40 94h4M200 94h4M252 94h4M12 102h4M248 118h4M244 122h4M228 126h8M0 130h4M44 130h4M116 162h4M56 186h4M56 190h4M64 198h4M240 238h4M0 246h4M36 246h4M40 250h4M8 254h4"/>
<path stroke="#414141" d="M168 26h4M148 34h4M240 78h4M248 82h4M252 90h4M52 106h4M200 110h4M0 114h4M52 122h4M224 126h4M236 126h4M0 134h4M112 162h4M84 166h4M72 170h4M60 178h4M92 198h4M240 206h4"/>
<path stroke="#424242" d="M172 30h4M172 34h4M152 38h4M40 70h8M36 74h16M40 78h8M236 78h4M244 78h4M216 82h4M28 90h16M44 94h4M16 98h4M48 98h4M4 106h4M252 114h4M212 122h4M40 134h4M32 138h4M24 142h4M108 162h4M64 174h4M140 174h4M56 182h4M128 182h4M120 186h4M112 190h4M56 194h4M104 194h4M248 202h4M256 206h4M236 234h4M256 238h4M28 242h4M248 242h4M40 254h4"/>
<path stroke="#434343" d="M156 22h8M148 26h4M172 38h4M160 42h12M36 70h4M48 70h4M36 78h4M48 78h4M36 82h8M212 82h4M32 86h12M200 90h4M20 94h4M8 102h4M52 102h4M0 110h4M220 126h4M240 126h4M104 162h4M140 162h4M136 178h4M60 198h4M244 202h4M252 202h4M236 210h4M0 242h4M244 242h4M0 250h4"/>
<path stroke="#444444" d="M164 22h4M144 30h4M52 70h4M32 74h4M52 74h4M244 74h4M32 78h4M232 78h4M248 78h4M32 82h4M44 82h4M28 86h4M44 86h4M204 86h4M252 86h4M24 90h4M44 90h4M48 94h4M196 98h4M196 102h4M256 102h4M256 106h4M56 114h4M200 114h4M204 118h4M248 122h4M52 126h4M48 130h4M4 142h4M100 162h4M80 166h4M144 166h4M144 170h4M52 190h4M96 198h4M12 238h4M252 242h4M24 258h8"/>
<path stroke="#454545" d="M152 22h4M172 26h4M144 34h4M148 38h4M156 42h4M172 42h4M40 66h12M32 70h4M240 74h4M52 78h4M228 78h4M48 82h4M12 98h4M256 98h4M196 106h4M56 110h4M256 110h4M56 118h4M252 118h4M244 126h4M0 138h4M36 138h4M28 142h4M12 146h8M96 162h4M68 170h4M52 186h4M72 202h12M232 222h4M8 238h4M16 238h4M4 254h4M20 258h4"/>
<path stroke="#464646" d="M168 22h4M168 46h4M36 66h4M52 66h4M56 70h4M28 74h4M56 74h4M248 74h4M28 78h4M224 78h4M28 82h4M52 82h4M208 82h4M252 82h4M48 86h4M48 90h4M196 94h4M256 94h4M52 98h4M4 102h4M0 106h4M56 106h4M208 122h4M216 126h4M232 130h8M44 134h4M20 146h4M56 178h4M132 182h4M124 186h4M116 190h4M52 194h4M108 194h4M56 198h4M68 202h4M84 202h4M232 218h4M232 226h4M32 242h4M240 242h4M40 246h4M16 258h4M32 258h4"/>
<path stroke="#474747" d="M148 22h4M144 26h4M176 30h4M176 34h4M176 38h4M152 42h4M164 46h4M172 46h4M32 66h4M244 70h4M236 74h4M56 78h4M220 78h4M24 86h4M200 86h4M20 90h4M16 94h4M52 94h4M196 110h4M256 114h4M56 122h4M228 130h4M8 146h4M92 162h4M76 166h4M60 174h4M52 182h4M64 202h4M240 202h4M4 238h4M20 238h4M236 238h4M44 250h4"/>
<path stroke="#484848" d="M144 38h4M176 42h4M56 66h4M244 66h4M28 70h4M60 70h4M240 70h4M248 70h4M60 74h4M216 78h4M252 78h4M24 82h4M52 86h4M52 90h4M196 90h4M256 90h4M56 102h4M52 130h4M224 130h4M240 130h4M144 162h4M144 174h4M140 178h4M100 198h4M88 202h4M256 202h4M236 206h4M232 230h4M256 242h4M44 254h4M36 258h4"/>
<path stroke="#494949" d="M172 22h4M176 26h4M140 30h4M160 46h4M36 62h16M248 66h4M232 74h4M24 78h4M212 78h4M56 82h4M204 82h4M8 98h4M0 102h4M200 118h4M252 122h4M212 126h4M248 126h4M48 134h4M40 138h4M0 142h4M32 142h4M24 146h4M128 158h8M88 162h4M64 170h4M48 186h4M48 190h4M48 194h4M52 198h4M248 198h4M60 202h4M232 214h4M248 246h4M12 258h4"/>
<path stroke="#4a4a4a" d="M156 18h8M140 34h4M148 42h4M176 46h4M168 50h8M248 58h4M52 62h4M244 62h8M28 66h4M60 66h4M240 66h4M24 74h4M252 74h4M60 78h4M56 86h4M256 86h4M56 98h4M192 98h4M192 102h4M196 114h4M256 118h4M204 122h4M56 126h4M220 130h4M244 130h4M4 146h4M124 158h4M136 158h4M72 166h4M128 186h4M120 190h4M112 194h4M244 198h4M252 198h4M92 202h4M24 238h4M244 246h4M0 254h4"/>
<path stroke="#4b4b4b" d="M164 18h4M144 22h4M140 26h4M156 46h4M164 50h4M248 54h4M244 58h4M32 62h4M64 70h4M236 70h4M252 70h4M64 74h4M228 74h4M208 78h4M20 86h4M196 86h4M56 90h4M12 94h4M56 94h4M192 94h4M4 98h4M192 106h4M60 110h4M60 114h4M236 134h4M120 158h4M84 162h4M148 166h4M56 174h4M52 178h4M136 182h4M104 198h4M56 202h4M232 234h4M0 238h4M36 242h4M252 246h4"/>
<path stroke="#4c4c4c" d="M152 18h4M168 18h4M180 34h4M140 38h4M176 50h4M248 50h4M244 54h4M56 62h4M240 62h4M252 62h4M252 66h4M24 70h4M224 74h4M60 82h4M200 82h4M256 82h4M16 90h4M60 106h4M60 118h4M208 126h4M252 126h4M232 134h4M240 134h4M44 138h4M36 142h4M28 146h4M148 170h4M48 182h4M48 198h4M232 210h4M236 242h4M44 246h4M8 258h4M40 258h4"/>
<path stroke="#4d4d4d" d="M176 22h4M180 30h4M180 38h4M144 42h4M180 42h4M152 46h4M248 46h4M244 50h4M172 54h4M252 54h4M40 58h8M252 58h4M64 66h4M220 74h4M64 78h4M256 78h4M20 82h4M60 86h4M192 90h4M0 98h4M60 102h4M192 110h4M256 122h4M216 130h4M248 130h4M52 134h4M228 134h4M116 158h4M140 158h4M80 162h4M68 166h4M60 170h4M44 190h4M44 194h4M52 202h4M96 202h4M68 206h16M240 246h4M48 250h4"/>
<path stroke="#4e4e4e" d="M148 18h4M248 42h4M180 46h4M244 46h4M160 50h4M252 50h4M168 54h4M36 58h4M48 58h4M240 58h4M28 62h4M60 62h4M24 66h4M236 66h4M68 70h4M232 70h4M68 74h4M216 74h4M20 78h4M204 78h4M8 94h4M60 98h4M60 122h4M56 130h4M244 134h4M12 150h8M108 158h8M144 178h4M44 186h4M132 186h4M124 190h4M116 194h4M240 198h4M256 198h4M236 202h4M64 206h4M84 206h4M28 238h4M232 238h4M256 246h4M48 254h4"/>
<path stroke="#4f4f4f" d="M172 18h4M180 26h4M136 30h4M136 34h4M252 46h4M180 50h4M176 54h4M240 54h4M32 58h4M52 58h4M212 74h4M256 74h4M64 82h4M196 82h4M16 86h4M60 90h4M60 94h4M196 118h4M200 122h4M224 134h4M48 138h4M40 142h4M0 146h4M32 146h4M20 150h4M104 158h4M148 162h4M52 174h4M148 174h4M48 178h4M140 182h4M44 198h4M108 198h4M60 206h4M4 258h4"/>
<path stroke="#505050" d="M140 22h4M248 38h4M140 42h4M244 42h4M252 42h4M148 46h4M164 54h4M64 62h4M68 66h4M228 70h4M256 70h4M20 74h4M68 78h4M200 78h4M192 86h4M12 90h4M4 94h4M188 98h4M60 126h4M204 126h4M256 126h4M212 130h4M252 130h4M232 138h12M8 150h4M24 150h4M100 158h4M76 162h4M64 166h4M44 182h4M248 194h4M48 202h4M56 206h4M88 206h4M232 206h4M228 222h4M228 226h4M8 234h8M40 242h4M244 250h8M44 258h4"/>
<path stroke="#515151" d="M160 14h4M144 18h4M136 26h4M248 34h4M136 38h4M244 38h4M252 38h4M156 50h4M240 50h4M180 54h4M28 58h4M56 58h4M236 62h4M256 62h4M232 66h4M256 66h4M72 70h4M208 74h4M64 86h4M0 94h4M188 94h4M188 102h4M192 114h4M248 134h4M96 158h4M144 158h4M56 170h4M40 190h4M40 194h4M244 194h4M252 194h4M100 202h4M228 218h4M228 230h4M4 234h4M16 234h4M48 246h4M236 246h4M252 250h4"/>
<path stroke="#525252" d="M156 14h4M164 14h4M176 18h4M180 22h4M252 34h4M36 54h12M256 54h4M172 58h8M256 58h4M24 62h4M20 70h4M224 70h4M72 74h4M204 74h4M16 82h4M68 82h4M64 90h4M188 90h4M188 106h4M56 134h4M220 134h4M228 138h4M244 138h4M44 142h4M36 146h4M4 150h4M92 158h4M40 186h4M136 186h4M128 190h4M120 194h4M40 198h4M44 202h4M52 206h4M92 206h4M228 214h4M20 234h4M32 238h4M232 242h4"/>
<path stroke="#535353" d="M152 14h4M168 14h4M184 30h4M248 30h4M184 34h4M244 34h4M184 38h4M184 42h4M144 46h4M184 46h4M240 46h4M256 46h4M256 50h4M32 54h4M48 54h4M160 54h4M60 58h4M168 58h4M236 58h4M68 62h4M72 66h4M220 70h4M72 78h4M196 78h4M192 82h4M8 90h4M64 94h4M64 98h4M64 102h4M64 106h4M64 110h4M208 130h4M52 138h4M236 142h8M28 150h4M88 158h4M72 162h4M60 166h4M152 166h4M48 174h4M44 178h4M256 194h4M112 198h4M236 198h4M228 234h4M52 250h4M240 250h4M0 258h4"/>
<path stroke="#545454" d="M148 14h4M252 30h4M132 34h4M136 42h4M240 42h4M256 42h4M152 50h4M184 50h4M180 58h4M20 66h4M228 66h4M216 70h4M200 74h4M16 78h4M12 86h4M68 86h4M188 86h4M4 90h4M188 110h4M64 114h4M196 122h4M60 130h4M256 130h4M216 134h4M252 134h4M248 138h4M232 142h4M244 142h4M40 146h4M52 170h4M152 170h4M148 178h4M40 182h4M144 182h4M240 194h4M104 202h4M48 206h4M68 210h16M0 234h4M44 242h4M256 250h4M52 254h4M48 258h4"/>
<path stroke="#555555" d="M172 14h4M140 18h4M136 22h4M184 26h4M248 26h4M132 30h4M244 30h4M256 38h4M140 46h4M36 50h8M28 54h4M52 54h4M184 54h4M236 54h4M24 58h4M64 58h4M164 58h4M72 62h4M232 62h4M76 70h4M212 70h4M76 74h4M0 90h4M64 118h4M192 118h4M200 126h4M224 138h4M48 142h4M236 146h8M0 150h4M32 150h4M84 158h4M68 162h4M140 186h4M36 190h4M132 190h4M36 194h4M124 194h4M40 202h4M232 202h4M96 206h4M60 210h8M84 210h4M228 210h4M24 234h4M228 238h4"/>
<path stroke="#565656" d="M180 18h4M248 22h4M252 26h4M256 34h4M132 38h4M240 38h4M32 50h4M44 50h4M148 50h4M56 54h4M156 54h4M76 66h4M224 66h4M208 70h4M16 74h4M196 74h4M192 78h4M72 82h4M188 82h4M184 94h4M248 142h4M244 146h4M240 150h4M16 154h8M148 158h4M152 162h4M56 166h4M44 174h4M152 174h4M40 178h4M36 186h4M248 190h8M36 198h4M116 198h4M44 206h4M164 206h8M56 210h4M36 238h4M232 246h4M236 250h4M244 254h8"/>
<path stroke="#575757" d="M144 14h4M176 14h4M184 22h4M252 22h4M132 26h4M244 26h4M256 30h4M36 46h4M236 50h4M68 58h4M184 58h4M172 62h8M204 70h4M76 78h4M12 82h4M8 86h4M68 90h4M184 90h4M184 98h4M188 114h4M64 122h4M204 130h4M212 134h4M256 134h4M56 138h4M252 138h4M228 142h4M44 146h4M232 146h4M36 150h4M236 150h4M244 150h4M12 154h4M24 154h4M80 158h4M64 162h4M48 170h4M244 190h4M36 202h4M164 202h8M52 210h4M88 210h4M52 246h4M252 254h4"/>
<path stroke="#585858" d="M156 10h12M248 18h4M244 22h4M32 26h8M32 30h8M32 34h8M240 34h4M32 38h8M36 42h4M132 42h4M32 46h4M40 46h4M136 46h4M28 50h4M48 50h4M144 50h4M60 54h4M160 58h4M232 58h4M20 62h4M76 62h4M168 62h4M180 62h4M228 62h4M216 66h8M80 70h4M200 70h4M192 74h4M188 78h4M0 86h8M184 86h4M68 94h4M184 102h4M64 126h4M60 134h4M220 138h4M52 142h4M248 146h4M8 154h4M28 154h4M240 154h4M52 166h4M36 182h4M136 190h4M256 190h4M32 194h4M128 194h4M108 202h4M160 202h4M40 206h4M160 206h4M172 206h4M48 210h4M168 210h4M224 222h4M224 226h4M28 234h4M48 242h4M228 242h4M240 254h4"/>
<path stroke="#595959" d="M152 10h4M168 10h4M252 18h4M32 22h8M256 26h4M40 30h4M240 30h4M40 34h4M188 34h4M40 38h4M188 38h4M32 42h4M40 42h4M188 42h4M44 46h4M188 46h4M236 46h4M52 50h4M188 50h4M24 54h4M152 54h4M188 54h4M72 58h4M184 62h4M80 66h4M212 66h4M16 70h4M196 70h4M80 74h4M184 82h4M72 86h4M68 98h4M192 122h4M196 126h4M252 142h4M40 150h4M232 150h4M32 154h4M236 154h4M244 154h4M76 158h4M240 158h4M60 162h4M44 170h4M40 174h4M148 182h4M144 186h4M32 190h4M240 190h4M236 194h4M32 198h4M120 198h4M172 202h4M100 206h4M228 206h4M44 210h4M92 210h4M164 210h4M172 210h4M224 218h4M8 230h8M224 230h4M40 238h4M56 250h4M56 254h4M256 254h4M52 258h4"/>
<path stroke="#5a5a5a" d="M148 10h4M172 10h4M140 14h4M180 14h4M248 14h8M136 18h4M184 18h4M244 18h4M256 22h4M28 26h4M40 26h4M28 30h4M188 30h4M28 34h4M128 34h4M28 46h4M140 50h4M64 54h4M232 54h4M188 58h4M164 62h4M224 62h4M208 66h4M188 74h4M12 78h4M8 82h4M76 82h4M68 102h4M184 106h4M208 134h4M256 138h4M224 142h4M48 146h4M228 146h4M248 150h4M4 154h4M72 158h4M236 158h4M244 158h4M48 166h4M36 178h4M152 178h4M32 186h4M248 186h4M164 198h4M232 198h4M32 202h4M36 206h4M60 214h24M4 230h4M16 230h4M32 234h4M224 234h4M232 250h4M236 254h4M248 258h4"/>
<path stroke="#5b5b5b" d="M248 10h4M244 14h4M32 18h8M256 18h4M28 22h4M40 22h4M132 22h4M188 26h4M240 26h4M28 38h4M128 38h4M28 42h4M44 42h4M236 42h4M48 46h4M132 46h4M56 50h4M148 54h4M20 58h4M76 58h4M156 58h4M228 58h4M80 62h4M188 62h4M16 66h4M172 66h16M200 66h8M84 70h4M188 70h8M80 78h4M184 78h4M0 82h8M72 90h4M68 106h4M188 118h4M64 130h4M200 130h4M216 138h4M252 146h4M44 150h4M36 154h4M232 154h4M248 154h4M152 158h4M56 162h4M240 162h4M156 166h4M40 170h4M32 182h4M244 186h4M252 186h4M140 190h4M132 194h4M160 198h4M168 198h4M112 202h4M156 202h4M156 206h4M176 206h4M40 210h4M160 210h4M52 214h8M84 214h4M224 214h4M0 230h4M20 230h4M224 238h4M56 246h4M228 246h4M244 258h4M252 258h4"/>
<path stroke="#5c5c5c" d="M144 10h4M176 10h4M244 10h4M252 10h4M28 18h4M40 18h4M188 22h4M240 22h4M128 30h4M44 34h4M44 38h4M128 42h4M24 50h4M136 50h4M232 50h4M68 54h4M220 62h4M84 66h4M188 66h12M184 70h4M12 74h4M184 74h4M180 86h4M180 90h4M180 94h4M184 110h4M60 138h4M56 142h4M256 142h4M52 146h4M252 150h4M0 154h4M40 154h4M68 158h4M248 158h4M52 162h4M236 162h4M244 162h4M44 166h4M156 170h4M36 174h4M148 186h4M256 186h4M28 190h4M28 194h4M28 198h4M124 198h4M28 202h4M176 202h4M228 202h4M32 206h4M104 206h4M36 210h4M96 210h4M176 210h4M48 214h4M88 214h4M164 214h8M24 230h4M44 238h4M52 242h4M56 258h4M240 258h4M256 258h4"/>
<path stroke="#5d5d5d" d="M156 6h12M248 6h4M32 14h8M184 14h4M256 14h4M240 18h4M44 26h4M44 30h4M236 38h4M52 46h4M60 50h4M192 50h4M144 54h4M192 54h4M80 58h4M152 58h4M192 58h4M84 62h4M160 62h4M192 62h4M212 62h8M168 66h4M180 70h4M84 74h4M180 74h4M0 78h4M8 78h4M180 78h4M180 82h4M76 86h4M180 98h4M68 110h4M64 134h4M204 134h4M220 142h4M48 150h4M228 150h4M44 154h4M96 154h8M140 154h4M20 158h20M64 158h4M232 158h4M44 162h8M156 162h4M248 162h4M40 166h4M240 166h8M156 174h4M32 178h4M152 182h4M248 182h4M28 186h4M240 186h4M144 190h4M236 190h4M136 194h4M156 198h4M172 198h4M156 210h4M224 210h4M44 214h4M172 214h4M36 234h4M224 242h4M60 250h4M228 250h4M232 254h4"/>
<path stroke="#5e5e5e" d="M248 2h4M152 6h4M168 6h4M244 6h4M252 6h4M180 10h4M240 10h4M256 10h4M28 14h4M40 14h4M136 14h4M240 14h4M188 18h4M24 22h4M44 22h4M24 26h4M128 26h4M24 30h4M24 34h4M236 34h4M24 38h4M24 42h4M48 42h4M192 42h4M24 46h4M128 46h4M192 46h4M132 50h4M72 54h4M228 54h4M224 58h4M196 62h16M88 66h4M164 66h4M176 70h4M4 78h4M72 94h4M192 126h4M196 130h4M212 138h4M224 146h4M256 146h4M48 154h4M88 154h8M104 154h4M136 154h4M144 154h4M252 154h4M16 158h4M40 158h24M36 162h8M36 166h4M236 166h4M36 170h4M244 170h4M32 174h4M244 182h4M252 182h4M232 194h4M128 198h4M116 202h4M152 202h4M28 206h4M32 210h4M40 214h4M160 214h4M60 218h24M220 226h4M28 230h4M48 238h4M60 254h4M236 258h4"/>
<path stroke="#5f5f5f" d="M244 2h4M252 2h4M148 6h4M172 6h4M240 6h4M256 6h4M32 10h8M140 10h4M24 18h4M132 18h4M192 34h4M48 38h4M192 38h4M232 46h4M64 50h4M20 54h4M76 54h4M140 54h4M196 58h4M16 62h4M88 62h4M156 62h4M12 70h4M88 70h4M172 70h4M0 74h4M176 74h4M84 78h4M80 82h4M180 102h4M68 114h4M184 114h4M188 122h4M56 146h4M52 150h4M256 150h4M52 154h4M80 154h8M108 154h4M132 154h4M228 154h4M12 158h4M252 158h4M32 162h4M232 162h4M248 166h4M240 170h4M248 170h4M244 174h4M244 178h8M28 182h4M240 182h4M256 182h4M148 190h4M24 194h4M140 194h4M156 194h12M24 198h4M152 198h4M24 202h4M108 206h4M152 206h4M180 206h4M28 210h4M180 210h4M36 214h4M92 214h4M176 214h4M48 218h12M84 218h4M220 222h4M8 226h12M32 230h4M220 230h4M40 234h4M220 234h4M56 242h4M60 246h4M224 246h4"/>
<path stroke="#606060" d="M240 2h4M256 2h4M144 6h4M176 6h4M28 10h4M40 10h4M184 10h4M24 14h4M44 18h4M192 30h4M236 30h4M48 34h4M124 38h4M52 42h4M124 42h4M56 46h4M136 54h4M196 54h4M84 58h4M148 58h4M200 58h4M216 58h8M168 70h4M4 74h8M88 74h4M176 78h4M176 82h4M176 86h4M72 98h4M60 142h4M56 154h4M76 154h4M112 154h4M128 154h4M256 154h4M8 158h4M28 162h4M252 162h4M32 166h4M252 166h4M32 170h4M236 170h4M240 174h4M248 174h4M28 178h4M156 178h4M240 178h4M252 178h4M152 186h4M236 186h4M24 190h4M152 190h4M144 194h12M168 194h4M132 198h4M148 198h4M176 198h4M228 198h4M120 202h4M180 202h4M24 206h4M224 206h4M24 210h4M100 210h4M28 214h8M40 218h8M88 218h4M168 218h4M220 218h4M0 226h8M20 226h8M52 238h4M220 238h4M224 250h4M228 254h4M60 258h4M232 258h4"/>
<path stroke="#616161" d="M156 2h16M28 6h12M180 6h4M24 10h4M44 14h4M188 14h4M236 14h4M236 18h4M236 22h4M192 26h4M236 26h4M48 30h4M124 34h4M232 42h4M124 46h4M20 50h4M68 50h4M128 50h4M196 50h4M228 50h4M80 54h4M224 54h4M88 58h4M144 58h4M204 58h12M92 62h4M152 62h4M92 66h4M160 66h4M0 70h4M172 74h4M76 90h4M176 90h4M200 134h4M64 138h4M208 138h4M216 142h4M56 150h4M224 150h4M60 154h4M68 154h8M116 154h12M148 154h4M0 158h8M156 158h4M256 158h4M24 162h4M28 166h4M252 170h4M28 174h4M252 174h4M256 178h4M156 190h4M136 198h4M144 198h4M148 202h4M152 210h4M24 214h4M156 214h4M180 214h4M220 214h4M32 218h8M164 218h4M172 218h4M48 222h36M28 226h4M36 230h4M44 234h4M60 242h4M220 242h4M64 250h4M64 254h4"/>
<path stroke="#626262" d="M32 2h4M148 2h8M172 2h8M236 2h4M40 6h4M140 6h4M184 6h4M236 6h4M136 10h4M188 10h4M236 10h4M20 18h4M20 22h4M128 22h4M192 22h4M20 26h4M48 26h4M20 30h4M124 30h4M60 46h4M196 46h4M72 50h4M124 50h4M132 54h4M200 54h4M16 58h4M140 58h4M12 66h4M8 70h4M92 70h4M164 70h4M168 74h4M172 78h4M176 94h4M180 106h4M68 118h4M192 130h4M60 146h4M220 146h4M64 154h4M228 158h4M20 162h4M256 162h4M232 166h4M256 166h4M28 170h4M256 170h4M236 174h4M256 174h4M236 178h4M156 182h4M236 182h4M24 186h4M232 190h4M172 194h4M20 198h4M140 198h4M20 202h4M124 202h4M20 206h4M112 206h4M148 206h4M20 210h4M20 214h4M96 214h4M24 218h8M160 218h4M176 218h4M12 222h36M84 222h4M32 226h12M40 230h4M48 234h4M56 238h4M64 246h4M220 246h4M224 254h4M64 258h4M228 258h4"/>
<path stroke="#636363" d="M28 2h4M36 2h8M144 2h4M180 2h4M24 6h4M44 10h4M20 14h4M132 14h4M192 18h4M48 22h4M20 34h4M52 38h4M232 38h4M56 42h4M196 42h4M20 46h4M84 54h4M128 54h4M204 54h4M220 54h4M92 58h4M136 58h4M96 62h4M148 62h4M0 66h4M96 66h4M156 66h4M4 70h4M84 82h4M172 82h4M80 86h4M72 102h4M184 118h4M188 126h4M64 142h4M60 150h4M24 166h4M160 166h4M160 170h4M232 170h4M24 182h4M156 186h4M160 190h4M20 194h4M228 194h4M128 202h4M144 202h4M224 202h4M16 206h4M184 206h4M16 210h4M104 210h4M184 210h4M220 210h4M16 214h4M16 218h8M92 218h4M180 218h4M0 222h12M88 222h4M216 222h4M44 226h40M216 226h4M44 230h8M216 230h4M52 234h4M216 234h4M60 238h4M216 238h4M64 242h4M216 242h4M68 250h4M220 250h4M68 254h4M224 258h4"/>
<path stroke="#646464" d="M24 2h4M184 2h4M232 2h4M20 6h4M44 6h4M188 6h4M232 6h4M20 10h4M192 10h4M192 14h4M48 18h4M52 34h4M20 38h4M196 38h4M20 42h4M120 42h4M64 46h4M120 46h4M228 46h4M76 50h4M120 50h4M200 50h4M224 50h4M88 54h4M124 54h4M208 54h12M96 58h4M132 58h4M144 62h4M160 70h4M92 74h4M164 74h4M88 78h4M168 78h4M172 86h4M76 94h4M176 98h4M68 122h4M68 126h4M68 130h4M196 134h4M204 138h4M212 142h4M64 150h4M152 154h4M224 154h4M16 162h4M160 162h4M228 162h4M160 174h4M24 178h4M232 186h4M20 190h4M164 190h4M180 198h4M16 202h4M132 202h12M116 206h4M12 210h4M148 210h4M12 214h4M152 214h4M184 214h4M4 218h12M156 218h4M216 218h4M164 222h16M84 226h4M52 230h12M56 234h8M64 238h4M68 242h4M68 246h4M216 246h4M72 250h4M216 250h4M72 254h4M220 254h4M68 258h4M220 258h4"/>
<path stroke="#656565" d="M20 2h4M44 2h4M140 2h4M188 2h4M136 6h4M192 6h4M232 10h4M48 14h4M232 14h4M128 18h4M124 26h4M196 34h4M232 34h4M120 38h4M68 46h4M200 46h4M16 54h4M120 54h4M100 58h4M128 58h4M0 62h4M12 62h4M100 62h4M4 66h8M100 66h4M152 66h4M96 70h4M172 90h4M180 110h4M68 134h4M64 146h4M68 150h4M12 162h4M24 170h4M24 174h4M232 174h4M232 182h4M160 186h4M16 198h4M184 202h4M12 206h4M144 206h4M220 206h4M4 210h8M0 214h12M100 214h4M216 214h4M0 218h4M184 218h4M160 222h4M180 222h4M88 226h4M212 226h4M64 230h24M212 230h4M64 234h12M212 234h4M68 238h4M212 238h4M72 242h4M212 242h4M72 246h4M212 246h4M212 250h4M76 254h4M212 254h8M72 258h4M216 258h4"/>
<path stroke="#666666" d="M16 2h4M136 2h4M192 2h8M228 2h4M16 6h4M48 6h4M196 6h4M228 6h4M16 10h4M48 10h4M132 10h4M16 14h4M16 18h4M232 18h4M16 22h4M196 22h4M232 22h4M196 26h4M232 26h4M52 30h4M196 30h4M232 30h4M56 38h4M60 42h4M228 42h4M116 46h4M80 50h4M116 50h4M204 50h4M220 50h4M92 54h8M116 54h4M104 58h8M120 58h8M104 62h4M136 62h8M148 66h4M156 70h4M160 74h4M164 78h4M168 82h4M184 122h4M68 138h4M200 138h4M216 146h4M72 150h4M220 150h4M0 162h12M20 166h4M228 166h4M160 178h4M232 178h4M160 182h4M20 186h4M168 190h4M228 190h4M16 194h4M176 194h4M224 198h4M12 202h4M0 206h12M120 206h4M0 210h4M108 210h4M188 210h4M188 214h4M96 218h4M92 222h4M184 222h4M212 222h4M164 226h20M208 230h4M76 234h8M208 234h4M72 238h12M204 238h8M76 242h4M196 242h16M76 246h4M176 246h36M76 250h8M172 250h40M80 254h4M168 254h44M76 258h8M164 258h52"/>
<path stroke="#676767" d="M0 2h16M48 2h4M200 2h8M224 2h4M0 6h4M12 6h4M200 6h4M0 10h4M12 10h4M196 10h4M228 10h4M196 14h4M196 18h4M16 26h4M52 26h4M120 34h4M200 42h4M72 46h4M224 46h4M84 50h4M112 50h4M208 50h12M100 54h16M0 58h4M112 58h8M108 62h4M132 62h4M104 66h4M100 70h4M152 70h4M80 90h4M176 102h4M72 106h4M188 130h4M192 134h4M68 142h4M208 142h4M68 146h4M76 150h8M160 158h4M224 158h4M20 182h4M12 198h4M0 202h12M220 202h4M124 206h4M140 206h4M188 206h4M144 210h4M216 210h4M148 214h4M152 218h4M188 218h4M212 218h4M156 222h4M188 222h4M160 226h4M184 226h8M208 226h4M88 230h4M164 230h44M84 234h4M168 234h40M84 238h4M168 238h36M80 242h8M164 242h32M80 246h8M164 246h12M84 250h4M160 250h12M84 254h8M156 254h12M84 258h12M152 258h12"/>
<path stroke="#686868" d="M132 2h4M208 2h16M4 6h8M132 6h4M204 6h4M224 6h4M4 10h8M200 10h4M0 14h4M12 14h4M128 14h4M0 18h4M52 22h4M16 30h4M16 34h4M56 34h4M64 42h4M116 42h4M204 46h4M16 50h4M88 50h4M108 50h4M12 58h4M4 62h8M112 62h20M144 66h4M96 74h4M156 74h4M92 78h4M168 86h4M172 94h4M180 114h4M84 150h4M156 154h4M16 166h4M20 170h4M228 170h4M20 178h4M164 186h4M228 186h4M16 190h4M172 190h4M224 194h4M0 198h4M8 198h4M184 198h4M128 206h12M112 210h4M192 214h4M212 214h4M192 218h4M192 222h8M204 222h8M92 226h4M192 226h16M160 230h4M88 234h4M164 234h4M88 238h4M160 238h8M160 242h4M88 246h4M156 246h8M88 250h4M152 250h8M92 254h4M148 254h8M96 258h4M140 258h12"/>
<path stroke="#696969" d="M52 2h4M52 6h4M208 6h16M52 10h4M224 10h4M4 14h8M52 14h4M200 14h4M228 14h4M4 18h4M12 18h4M52 18h4M0 22h4M12 22h4M124 22h4M120 30h4M16 38h4M60 38h4M200 38h4M228 38h4M16 42h4M16 46h4M76 46h4M112 46h4M208 46h4M220 46h4M92 50h16M0 54h4M108 66h4M140 66h4M148 70h4M160 78h4M88 82h4M164 82h4M84 86h4M76 98h4M184 126h4M196 138h4M204 142h4M212 146h4M88 150h4M220 154h4M224 162h4M0 166h4M164 166h4M20 174h4M228 174h4M228 182h4M0 194h4M12 194h4M180 194h4M4 198h4M188 202h4M216 206h4M140 210h4M192 210h4M104 214h4M144 214h4M148 218h4M196 218h16M96 222h4M152 222h4M200 222h4M156 226h4M92 230h4M160 234h4M156 238h4M88 242h4M156 242h4M152 246h4M92 250h4M148 250h4M96 254h4M144 254h4M100 258h8M132 258h8"/>
<path stroke="#6a6a6a" d="M128 10h4M204 10h4M220 10h4M8 18h4M200 18h4M228 18h4M4 22h4M200 22h4M0 26h4M12 26h4M0 30h4M56 30h4M200 34h4M228 34h4M116 38h4M68 42h4M204 42h4M224 42h4M212 46h8M0 50h4M4 58h4M112 66h4M136 66h4M104 70h4M168 90h4M188 134h4M72 146h4M216 150h4M164 162h4M4 166h4M12 166h4M164 170h4M164 174h4M228 178h4M164 182h4M16 186h4M4 194h8M220 198h4M192 206h4M116 210h4M212 210h4M196 214h16M100 218h4M156 230h4M92 234h4M156 234h4M92 238h4M92 242h4M152 242h4M92 246h4M148 246h4M96 250h4M144 250h4M100 254h4M136 254h8M108 258h24"/>
<path stroke="#6b6b6b" d="M56 2h4M128 2h4M128 6h4M208 10h12M204 14h4M224 14h4M124 18h4M8 22h4M228 22h4M4 26h4M200 26h4M200 30h4M228 30h4M0 34h4M0 38h4M0 42h4M112 42h4M0 46h4M80 46h4M108 46h4M12 54h4M8 58h4M116 66h20M144 70h4M152 74h4M176 106h4M72 110h4M180 118h4M192 138h4M200 142h4M92 150h4M160 154h4M8 166h4M224 166h4M0 170h4M16 170h4M164 178h4M168 186h4M0 190h4M12 190h4M176 190h4M224 190h4M216 202h4M212 206h4M120 210h4M136 210h4M196 210h4M208 210h4M148 222h4M96 226h4M152 226h4M152 230h4M152 234h4M152 238h4M148 242h4M96 246h4M100 250h4M140 250h4M104 254h8M132 254h4"/>
<path stroke="#6c6c6c" d="M56 6h4M208 14h4M220 14h4M8 26h4M56 26h4M120 26h4M228 26h4M4 30h4M12 30h4M60 34h4M116 34h4M64 38h4M204 38h4M224 38h4M72 42h4M208 42h4M220 42h4M84 46h4M104 46h4M4 54h4M108 70h4M100 74h4M156 78h4M160 82h4M164 86h4M172 98h4M184 130h4M72 142h4M76 146h4M208 146h4M164 158h4M220 158h4M224 170h4M16 174h4M16 178h4M16 182h4M0 186h4M224 186h4M4 190h8M220 194h4M188 198h4M192 202h4M196 206h4M124 210h12M200 210h8M108 214h4M140 214h4M144 218h4M148 238h4M96 242h4M144 246h4M136 250h4M112 254h20"/>
<path stroke="#6d6d6d" d="M56 10h4M212 14h8M56 18h4M204 18h4M224 18h4M56 22h4M8 30h4M4 34h4M12 34h4M212 42h8M88 46h16M4 50h4M12 50h4M8 54h4M140 70h4M148 74h4M96 78h4M72 138h4M196 142h4M96 150h4M212 150h4M216 154h4M4 170h4M12 170h4M0 174h4M224 174h4M0 178h4M0 182h4M224 182h4M12 186h4M184 194h4M216 198h4M212 202h4M200 206h4M208 206h4M104 218h4M100 222h4M148 226h4M96 230h4M148 230h4M96 234h4M148 234h4M96 238h4M144 242h4M100 246h4M140 246h4M104 250h4M132 250h4"/>
<path stroke="#6e6e6e" d="M60 2h4M124 2h4M56 14h4M124 14h4M208 18h4M204 22h4M224 22h4M204 26h4M60 30h4M204 30h4M8 34h4M204 34h4M224 34h4M4 38h4M12 38h4M112 38h4M208 38h4M4 42h4M12 42h4M76 42h4M108 42h4M4 46h4M12 46h4M112 70h4M136 70h4M80 94h4M168 94h4M176 110h4M180 122h4M72 134h4M184 134h4M188 138h4M204 146h4M220 162h4M8 170h4M224 178h4M168 182h4M4 186h8M172 186h4M220 190h4M196 202h4M204 206h4M112 214h4M136 214h4M140 218h4M144 222h4M144 238h4M136 246h4M108 250h8M128 250h4"/>
<path stroke="#6f6f6f" d="M60 6h4M124 6h4M124 10h4M212 18h12M224 26h4M224 30h4M64 34h4M8 38h4M68 38h4M220 38h4M8 50h4M116 70h4M132 70h4M104 74h4M152 78h4M92 82h4M76 102h4M72 114h4M192 142h4M80 146h4M100 150h4M164 154h4M168 162h4M168 166h4M168 170h4M4 174h4M12 174h4M12 178h4M168 178h4M4 182h4M12 182h4M180 190h4M216 194h4M192 198h4M200 202h4M208 202h4M116 214h4M132 214h4M100 226h4M144 226h4M144 234h4M100 242h4M140 242h4M104 246h4M116 250h12"/>
<path stroke="#707070" d="M64 2h4M120 22h4M208 22h4M220 22h4M60 26h4M116 30h4M208 34h4M212 38h8M8 42h4M80 42h4M104 42h4M8 46h4M120 70h12M144 74h4M156 82h4M88 86h4M160 86h4M84 90h4M164 90h4M172 102h4M180 126h4M72 130h4M76 142h4M200 146h4M148 150h12M208 150h4M168 158h4M216 158h4M220 166h4M8 174h4M168 174h4M4 178h8M8 182h4M220 186h4M188 194h4M212 198h4M204 202h4M120 214h4M128 214h4M108 218h4M136 218h4M140 222h4M100 230h4M144 230h4M100 234h4M100 238h4M140 238h4M108 246h4M132 246h4"/>
<path stroke="#717171" d="M120 2h4M60 10h4M212 22h8M208 26h4M208 30h4M220 34h4M72 38h4M84 42h4M184 138h4M188 142h4M84 146h4M160 150h4M212 154h4M220 170h4M172 182h4M220 182h4M176 186h4M216 190h4M196 198h4M208 198h4M124 214h4M104 222h4M104 242h4M136 242h4M112 246h4M128 246h4"/>
<path stroke="#727272" d="M120 6h4M60 14h4M60 18h4M120 18h4M60 22h4M212 26h4M220 26h4M220 30h4M112 34h4M212 34h8M108 38h4M88 42h4M100 42h4M108 74h4M140 74h4M100 78h4M148 78h4M176 114h4M72 118h4M72 126h4M180 130h4M196 146h4M104 150h4M144 150h4M204 150h4M168 154h4M216 162h4M220 174h4M220 178h4M184 190h4M212 194h4M200 198h8M112 218h4M132 218h4M140 226h4M140 230h4M140 234h4M104 238h4M132 242h4M116 246h12"/>
<path stroke="#737373" d="M68 2h4M64 6h4M116 26h4M216 26h4M64 30h4M212 30h8M68 34h4M92 42h8M168 98h4M72 122h4M180 134h4M184 142h4M192 146h4M164 150h4M172 178h4M180 186h4M216 186h4M192 194h4M208 194h4M136 222h4M104 226h4M136 238h4M108 242h4"/>
<path stroke="#747474" d="M116 2h4M120 10h4M120 14h4M76 38h4M136 74h4M152 82h4M80 98h4M172 106h4M180 138h4M180 142h4M188 146h4M108 150h4M140 150h4M168 150h4M200 150h4M172 154h4M208 154h4M172 158h4M212 158h4M172 162h4M172 166h4M216 166h4M172 170h4M172 174h4M176 182h4M216 182h4M188 190h4M212 190h4M196 194h4M204 194h4M116 218h16M108 222h4M136 226h4M104 230h4M136 230h4M104 234h4M136 234h4M132 238h4M112 242h4M128 242h4"/>
<path stroke="#757575" d="M64 10h4M64 26h4M104 38h4M112 74h4M164 94h4M76 106h4M176 118h4M76 138h4M88 146h4M180 146h8M172 150h4M196 150h4M216 170h4M216 174h4M216 178h4M200 194h4M132 222h4M108 238h4M116 242h12"/>
<path stroke="#767676" d="M72 2h4M68 6h4M112 30h4M72 34h4M108 34h4M80 38h4M116 74h4M132 74h4M144 78h4M96 82h4M156 86h4M160 90h4M80 142h4M176 142h4M176 146h4M136 150h4M176 150h4M192 150h4M176 154h4M204 154h4M212 162h4M176 178h4M184 186h4M212 186h4M192 190h4M208 190h4M112 222h4M128 222h4M108 226h4M132 226h4M108 234h4M132 234h4M112 238h4M128 238h4"/>
<path stroke="#777777" d="M112 2h4M116 6h4M64 14h4M64 18h4M64 22h4M116 22h4M68 30h4M100 38h4M128 74h4M104 78h4M176 122h4M176 138h4M164 146h12M112 150h4M180 150h12M176 158h4M208 158h4M176 162h4M176 166h4M176 174h4M180 182h4M212 182h4M196 190h12M116 222h4M124 222h4M108 230h4M132 230h4M116 238h4M124 238h4"/>
<path stroke="#787878" d="M84 38h4M96 38h4M120 74h8M92 86h4M84 94h4M172 110h4M176 126h4M176 130h4M176 134h4M160 146h4M180 154h4M200 154h4M212 166h4M176 170h4M212 170h4M212 174h4M212 178h4M188 186h4M208 186h4M120 222h4M112 226h4M128 226h4M112 234h4M128 234h4M120 238h4"/>
<path stroke="#797979" d="M76 2h4M68 10h4M116 10h4M116 14h4M116 18h4M76 34h4M88 38h8M148 82h4M88 90h4M168 102h4M76 134h4M172 142h4M132 150h4M184 154h16M180 158h4M204 158h4M208 162h4M180 178h4M184 182h4M208 182h4M192 186h4M204 186h4M116 226h4M124 226h4M112 230h4M128 230h4M116 234h4M124 234h4"/>
<path stroke="#7a7a7a" d="M108 2h4M72 6h4M68 26h4M112 26h4M72 30h4M104 34h4M140 78h4M92 146h4M156 146h4M116 150h4M184 158h4M200 158h4M180 162h4M180 166h4M208 166h4M180 174h4M208 178h4M196 186h8M120 226h4M116 230h12M120 234h4"/>
<path stroke="#7b7b7b" d="M80 2h4M112 6h4M68 14h4M68 22h4M108 30h4M108 78h4M76 110h4M172 138h4M168 142h4M128 150h4M188 158h12M184 162h4M204 162h4M180 170h4M208 170h4M208 174h4M184 178h4M188 182h4M204 182h4"/>
<path stroke="#7c7c7c" d="M104 2h4M68 18h4M80 34h4M100 82h4M152 86h4M164 98h4M80 102h4M172 114h4M84 142h4M120 150h8M200 162h4M184 166h4M204 166h4M184 174h4M204 178h4M192 182h12"/>
<path stroke="#7d7d7d" d="M84 2h4M76 6h4M112 22h4M100 34h4M136 78h4M156 90h4M160 94h4M172 134h4M164 142h4M152 146h4M188 162h12M200 166h4M184 170h4M204 170h4M204 174h4M188 178h16"/>
<path stroke="#7e7e7e" d="M100 2h4M108 6h4M72 10h4M112 10h4M72 26h4M76 30h4M84 34h4M144 82h4M168 106h4M76 130h4M80 138h4M168 138h4M96 146h4M188 166h12M188 170h4M200 170h4M188 174h16"/>
<path stroke="#7f7f7f" d="M88 2h12M112 14h4M112 18h4M88 34h4M96 34h4M112 78h4M172 118h4M172 130h4M160 142h4M192 170h8"/>
<path stroke="#808080" d="M72 14h4M72 22h4M108 26h4M104 30h4M92 34h4M132 78h4M76 114h4M172 122h4M172 126h4"/>
<path stroke="#818181" d="M80 6h4M104 6h4M72 18h4M80 30h4M116 78h4M96 86h4M84 98h4M148 146h4"/>
<path stroke="#828282" d="M76 10h4M108 10h4M76 26h4M128 78h4M148 86h4M76 126h4M168 134h4M164 138h4M88 142h4"/>
<path stroke="#838383" d="M84 6h4M108 22h4M100 30h4M120 78h8M104 82h4M92 90h4M164 102h4M168 110h4M76 118h4M100 146h4"/>
<path stroke="#848484" d="M100 6h4M84 30h4M140 82h4M88 94h4M80 106h4M76 122h4M156 142h4"/>
<path stroke="#858585" d="M88 6h4M96 6h4M80 10h4M76 14h4M108 14h4M108 18h4M76 22h4M104 26h4M96 30h4M152 90h4M160 98h4M168 130h4M80 134h4"/>
<path stroke="#868686" d="M92 6h4M104 10h4M76 18h4M80 26h4M88 30h8M156 94h4M168 114h4M144 146h4"/>
<path stroke="#878787" d="M84 138h4M160 138h4M104 146h4"/>
<path stroke="#888888" d="M84 10h4M104 22h4M100 26h4M108 82h4M168 126h4M164 134h4"/>
<path stroke="#898989" d="M100 10h4M80 14h4M104 14h4M80 22h4M84 26h4M136 82h4M100 86h4M164 106h4M168 118h4"/>
<path stroke="#8a8a8a" d="M88 10h4M80 18h4M104 18h4M144 86h4M168 122h4M92 142h4M152 142h4"/>
<path stroke="#8b8b8b" d="M92 10h8M88 26h4M96 26h4M84 102h4M108 146h4M140 146h4"/>
<path stroke="#8c8c8c" d="M84 14h4M100 14h4M84 22h4M100 22h4M92 26h4M80 110h4M80 130h4"/>
<path stroke="#8d8d8d" d="M84 18h4M112 82h4"/>
<path stroke="#8e8e8e" d="M88 14h4M96 14h4M100 18h4M88 22h4M96 22h4M132 82h4M96 90h4M148 90h4M160 102h4M164 110h4M164 130h4"/>
<path stroke="#8f8f8f" d="M92 14h4M92 22h4M88 98h4M156 138h4M112 146h4"/>
<path stroke="#909090" d="M88 18h12M116 82h4M92 94h4M160 134h4M136 146h4"/>
<path stroke="#919191" d="M128 82h4M152 94h4M156 98h4M88 138h4M96 142h4"/>
<path stroke="#929292" d="M120 82h4M104 86h4M140 86h4M80 114h4M164 114h4M80 126h4M84 134h4M148 142h4"/>
<path stroke="#939393" d="M124 82h4M164 126h4M116 146h4M132 146h4"/>
<path stroke="#959595" d="M84 106h4M164 118h4"/>
<path stroke="#969696" d="M160 106h4M80 118h4M80 122h4M164 122h4M120 146h4M128 146h4"/>
<path stroke="#979797" d="M124 146h4"/>
<path stroke="#989898" d="M144 90h4M100 142h4"/>
<path stroke="#999999" d="M108 86h4M136 86h4M100 90h4M160 130h4M152 138h4"/>
<path stroke="#9a9a9a" d="M144 142h4"/>
<path stroke="#9b9b9b" d="M88 102h4M92 138h4"/>
<path stroke="#9c9c9c" d="M156 102h4M84 130h4M156 134h4"/>
<path stroke="#9d9d9d" d="M96 94h4M148 94h4M160 110h4"/>
<path stroke="#9e9e9e" d="M92 98h4M152 98h4M84 110h4M104 142h4"/>
<path stroke="#9f9f9f" d="M112 86h4"/>
<path stroke="#a0a0a0" d="M132 86h4M88 134h4"/>
<path stroke="#a1a1a1" d="M160 126h4"/>
<path stroke="#a2a2a2" d="M140 90h4M160 114h4M140 142h4"/>
<path stroke="#a3a3a3" d="M104 90h4"/>
<path stroke="#a4a4a4" d="M116 86h4M128 86h4M84 126h4M148 138h4M108 142h4"/>
<path stroke="#a5a5a5" d="M84 114h4M160 118h4M160 122h4"/>
<path stroke="#a6a6a6" d="M96 138h4"/>
<path stroke="#a7a7a7" d="M120 86h8M88 106h4M156 106h4"/>
<path stroke="#a8a8a8" d="M84 122h4M156 130h4M152 134h4M136 142h4"/>
<path stroke="#a9a9a9" d="M100 94h4M144 94h4M84 118h4M112 142h4"/>
<path stroke="#aaaaaa" d="M152 102h4"/>
<path stroke="#ababab" d="M136 90h4M148 98h4M92 102h4M88 130h4"/>
<path stroke="#acacac" d="M108 90h4M96 98h4M92 134h4M116 142h4M132 142h4"/>
<path stroke="#adadad" d="M156 110h4M100 138h4M144 138h4"/>
<path stroke="#aeaeae" d="M88 110h4M128 142h4"/>
<path stroke="#afafaf" d="M156 126h4M120 142h8"/>
<path stroke="#b1b1b1" d="M112 90h4M132 90h4M140 94h4M156 114h4"/>
<path stroke="#b2b2b2" d="M104 94h4M88 126h4M148 134h4"/>
<path stroke="#b3b3b3" d="M88 114h4M156 118h4M156 122h4M152 130h4M104 138h4"/>
<path stroke="#b4b4b4" d="M92 106h4M152 106h4M140 138h4"/>
<path stroke="#b5b5b5" d="M116 90h4M128 90h4M144 98h4"/>
<path stroke="#b6b6b6" d="M100 98h4M148 102h4M88 122h4M96 134h4"/>
<path stroke="#b7b7b7" d="M120 90h8M96 102h4M88 118h4M92 130h4"/>
<path stroke="#b8b8b8" d="M108 138h4"/>
<path stroke="#bababa" d="M136 94h4M136 138h4"/>
<path stroke="#bbbbbb" d="M108 94h4M152 110h4"/>
<path stroke="#bcbcbc" d="M92 110h4M152 126h4M144 134h4"/>
<path stroke="#bdbdbd" d="M112 138h4"/>
<path stroke="#bebebe" d="M100 134h4"/>
<path stroke="#bfbfbf" d="M140 98h4M152 114h4M92 126h4M148 130h4M132 138h4"/>
<path stroke="#c1c1c1" d="M112 94h4M132 94h4M104 98h4M148 106h4M152 122h4M116 138h4"/>
<path stroke="#c2c2c2" d="M144 102h4M96 106h4M92 114h4M152 118h4M128 138h4"/>
<path stroke="#c3c3c3" d="M100 102h4M96 130h4M120 138h4"/>
<path stroke="#c4c4c4" d="M124 138h4"/>
<path stroke="#c5c5c5" d="M92 118h4M92 122h4M140 134h4"/>
<path stroke="#c6c6c6" d="M116 94h4M128 94h4M104 134h4"/>
<path stroke="#c8c8c8" d="M124 94h4"/>
<path stroke="#c9c9c9" d="M120 94h4M136 98h4M148 110h4M148 126h4"/>
<path stroke="#cacaca" d="M108 98h4M144 130h4"/>
<path stroke="#cbcbcb" d="M96 110h4"/>
<path stroke="#cdcdcd" d="M140 102h4M96 126h4M108 134h4M136 134h4"/>
<path stroke="#cecece" d="M144 106h4M148 114h4M100 130h4"/>
<path stroke="#cfcfcf" d="M104 102h4M100 106h4"/>
<path stroke="#d0d0d0" d="M148 122h4"/>
<path stroke="#d1d1d1" d="M132 98h4M96 114h4M148 118h4"/>
<path stroke="#d2d2d2" d="M112 98h4M112 134h4"/>
<path stroke="#d3d3d3" d="M96 122h4M132 134h4"/>
<path stroke="#d5d5d5" d="M96 118h4M140 130h4"/>
<path stroke="#d6d6d6" d="M128 98h4M144 126h4M116 134h4"/>
<path stroke="#d7d7d7" d="M116 98h4M136 102h4M144 110h4M104 130h4M128 134h4"/>
<path stroke="#d9d9d9" d="M108 102h4M100 110h4M120 134h8"/>
<path stroke="#dadada" d="M120 98h8M140 106h4M100 126h4"/>
<path stroke="#dcdcdc" d="M104 106h4"/>
<path stroke="#dddddd" d="M144 114h4"/>
<path stroke="#dedede" d="M144 122h4M136 130h4"/>
<path stroke="#e0e0e0" d="M132 102h4M100 114h4M144 118h4M108 130h4"/>
<path stroke="#e1e1e1" d="M100 122h4"/>
<path stroke="#e2e2e2" d="M112 102h4M140 126h4"/>
<path stroke="#e3e3e3" d="M100 118h4"/>
<path stroke="#e5e5e5" d="M136 106h4M140 110h4"/>
<path stroke="#e6e6e6" d="M128 102h4M104 126h4M112 130h4M132 130h4"/>
<path stroke="#e7e7e7" d="M116 102h4M108 106h4M104 110h4"/>
<path stroke="#eaeaea" d="M120 102h8"/>
<path stroke="#ebebeb" d="M140 114h4M140 122h4M116 130h4M128 130h4"/>
<path stroke="#ededed" d="M132 106h4M136 126h4"/>
<path stroke="#eeeeee" d="M104 114h4M140 118h4M120 130h8"/>
<path stroke="#efefef" d="M104 122h4M108 126h4"/>
<path stroke="#f0f0f0" d="M112 106h4M136 110h4"/>
<path stroke="#f1f1f1" d="M104 118h4"/>
<path stroke="#f3f3f3" d="M108 110h4"/>
<path stroke="#f4f4f4" d="M128 106h4"/>
<path stroke="#f5f5f5" d="M116 106h4M132 126h4"/>
<path stroke="#f7f7f7" d="M124 106h4M136 122h4M112 126h4"/>
<path stroke="#f8f8f8" d="M120 106h4M136 114h4"/>
<path stroke="#f9f9f9" d="M132 110h4"/>
<path stroke="#fafafa" d="M108 114h4M136 118h4M108 122h4"/>
<path stroke="#fbfbfb" d="M128 126h4"/>
<path stroke="#fcfcfc" d="M112 110h4"/>
<path stroke="#fdfdfd" d="M108 118h4M116 126h4"/>
<path stroke="#ffffff" d="M116 110h16M112 114h24M112 118h24M112 122h24M120 126h8"/>
</g></g></g>
<line x1="406.4" y1="0.5" x2="406.4" y2="244.5" stroke="#000" stroke-opacity=".18" stroke-width=".8"/>
<line x1="528.2" y1="0.5" x2="528.2" y2="244.5" stroke="#000" stroke-opacity=".18" stroke-width=".8"/>
<line x1="380.8" y1="38.3" x2="624.2" y2="38.3" stroke="#000" stroke-opacity=".18" stroke-width=".8"/>
<line x1="380.8" y1="119.2" x2="624.2" y2="119.2" stroke="#000" stroke-opacity=".18" stroke-width=".8"/>
<line x1="380.8" y1="201.2" x2="624.2" y2="201.2" stroke="#000" stroke-opacity=".18" stroke-width=".8"/>
<path d="M484 113.1L484.9 105.7L491.3 101.6L499.6 101.5L507.6 105.4L508.6 113.1L500.6 118.2L491.3 118.1Z" fill="none" stroke="#000" stroke-opacity=".75" stroke-width="0.95" stroke-linejoin="round"/>
<path d="M458.2 113.7L459.4 105.9L463.7 97.1L471.5 88.3L481.3 81.9L491 79L499.8 78.6L508.6 80.5L517.4 85L525.2 91.3L531.1 99.1L534 107.9L534.4 114.7L531.7 121.5L526.2 127.4L518.4 132.3L508.6 135.2L496.9 136.2L485.2 134.6L474.4 131.9L465.6 127.4L460.7 121.5Z" fill="none" stroke="#000" stroke-opacity=".75" stroke-width="0.95" stroke-linejoin="round"/>
<ellipse cx="421.6" cy="212.9" rx="34.5" ry="24.5" transform="rotate(-14.8 421.6 212.9)" fill="#000"/>
<path d="M499.4 122.9h6M502.4 119.9v6" stroke="#000" stroke-width="1.2" fill="none"/>
<rect x="380.8" y="0.5" width="243.4" height="244" fill="none" stroke="#000" stroke-width="1"/>
<line x1="406.4" y1="244.5" x2="406.4" y2="242" stroke="#ccc" stroke-width=".8"/>
<line x1="528.2" y1="244.5" x2="528.2" y2="242" stroke="#ccc" stroke-width=".8"/>
<text x="554.2" y="232.5" font-size="15.1" style="fill:#000;stroke:#000">CO(5-4)</text>
<text x="375.2" y="42.4" font-size="11.5" text-anchor="end">-09'39.0"</text>
<text x="375.2" y="123.3" font-size="11.5" text-anchor="end">40.0"</text>
<text x="375.2" y="205.3" font-size="11.5" text-anchor="end">41.0"</text>
<text x="406.4" y="259" font-size="11.5" text-anchor="middle">13.70s</text>
<text x="528.2" y="259" font-size="11.5" text-anchor="middle">2h17m13.60s</text>
<text x="502.4" y="273.4" font-size="11.5" text-anchor="middle">R.A. (J2000)</text>
<clipPath id="cl71"><rect x="71.9" y="289.2" width="246.4" height="243.6"/></clipPath>
<g clip-path="url(#cl71)">
<path d="M69.17 479.5V473.52H72.93V479.5ZM72.93 479.5V491.45H76.69V479.5ZM76.69 479.5V498.92H80.44V479.5ZM80.44 479.5V475.76H84.2V479.5ZM84.2 479.5V460.08H87.95V479.5ZM87.95 479.5V473.52H91.71V479.5ZM91.71 479.5V504.9H95.47V479.5ZM95.47 479.5V460.08H99.22V479.5ZM99.22 479.5V470.16H102.98V479.5ZM102.98 479.5V462.32H106.73V479.5ZM106.73 479.5V459.7H110.49V479.5ZM110.49 479.5V474.27H114.25V479.5ZM114.25 479.5V474.27H118V479.5ZM118 479.5V442.9H121.76V479.5ZM121.76 479.5V476.14H125.51V479.5ZM125.51 479.5V522.08H129.27V479.5ZM129.27 479.5V449.62H133.03V479.5ZM133.03 479.5V495.19H136.78V479.5ZM136.78 479.5V495.93H140.54V479.5ZM140.54 479.5V478.38H144.29V479.5ZM245.71 479.5V478.38H249.46V479.5ZM249.46 479.5V473.08H253.22V479.5ZM253.22 479.5V480.62H256.97V479.5ZM256.97 479.5V478.75H260.73V479.5ZM260.73 479.5V471.28H264.49V479.5ZM264.49 479.5V486.22H268.24V479.5ZM268.24 479.5V476.29H272V479.5ZM272 479.5V461.57H275.75V479.5ZM275.75 479.5V430.57H279.51V479.5ZM279.51 479.5V503.78H283.27V479.5ZM283.27 479.5V472.33H287.02V479.5ZM287.02 479.5V500.27H290.78V479.5ZM290.78 479.5V503.78H294.53V479.5ZM294.53 479.5V484.28H298.29V479.5ZM298.29 479.5V463.07H302.05V479.5ZM302.05 479.5V489.58H305.8V479.5ZM305.8 479.5V487.72H309.56V479.5ZM309.56 479.5V478.75H313.31V479.5ZM313.31 479.5V478.01H317.07V479.5ZM317.07 479.5V486.97H320.83V479.5Z" fill="#808080" stroke="#808080" stroke-width=".3"/>
<path d="M144.29 479.5V455.45H148.05V479.5ZM148.05 479.5V419.29H151.81V479.5ZM151.81 479.5V359.38H155.56V479.5ZM155.56 479.5V379.33H159.32V479.5ZM159.32 479.5V344.74H163.07V479.5ZM163.07 479.5V335.93H166.83V479.5ZM166.83 479.5V341.23H170.59V479.5ZM170.59 479.5V397.63H174.34V479.5ZM174.34 479.5V356.1H178.1V479.5ZM178.1 479.5V371.11H181.85V479.5ZM181.85 479.5V351.54H185.61V479.5ZM185.61 479.5V379.92H189.37V479.5ZM189.37 479.5V386.12H193.12V479.5ZM193.12 479.5V415.41H196.88V479.5ZM196.88 479.5V374.99H200.63V479.5ZM200.63 479.5V382.84H204.39V479.5ZM204.39 479.5V365.21H208.15V479.5ZM208.15 479.5V344.29H211.9V479.5ZM211.9 479.5V380.3H215.66V479.5ZM215.66 479.5V341.23H219.41V479.5ZM219.41 479.5V357.81H223.17V479.5ZM223.17 479.5V398.82H226.93V479.5ZM226.93 479.5V300.22H230.68V479.5ZM230.68 479.5V355.05H234.44V479.5ZM234.44 479.5V354.53H238.19V479.5ZM238.19 479.5V408.98H241.95V479.5ZM241.95 479.5V423.18H245.71V479.5Z" fill="#f00" stroke="#f00" stroke-width=".3"/>
<path d="M69.17 473.52V473.52H72.93V491.45H76.69V498.92H80.44V475.76H84.2V460.08H87.95V473.52H91.71V504.9H95.47V460.08H99.22V470.16H102.98V462.32H106.73V459.7H110.49V474.27H114.25V474.27H118V442.9H121.76V476.14H125.51V522.08H129.27V449.62H133.03V495.19H136.78V495.93H140.54V478.38H144.29V455.45H148.05V419.29H151.81V359.38H155.56V379.33H159.32V344.74H163.07V335.93H166.83V341.23H170.59V397.63H174.34V356.1H178.1V371.11H181.85V351.54H185.61V379.92H189.37V386.12H193.12V415.41H196.88V374.99H200.63V382.84H204.39V365.21H208.15V344.29H211.9V380.3H215.66V341.23H219.41V357.81H223.17V398.82H226.93V300.22H230.68V355.05H234.44V354.53H238.19V408.98H241.95V423.18H245.71V478.38H249.46V473.08H253.22V480.62H256.97V478.75H260.73V471.28H264.49V486.22H268.24V476.29H272V461.57H275.75V430.57H279.51V503.78H283.27V472.33H287.02V500.27H290.78V503.78H294.53V484.28H298.29V463.07H302.05V489.58H305.8V487.72H309.56V478.75H313.31V478.01H317.07V486.97H320.83" fill="none" stroke="#111" stroke-width=".85" stroke-linejoin="miter"/>
<line x1="71.9" y1="479.5" x2="318.3" y2="479.5" stroke="#000" stroke-width="1"/>
</g>
<path d="M74.81 532.8v-2.0M74.81 289.2v2.0M82.32 532.8v-3.7M82.32 289.2v3.7M89.83 532.8v-2.0M89.83 289.2v2.0M97.34 532.8v-2.0M97.34 289.2v2.0M104.86 532.8v-2.0M104.86 289.2v2.0M112.37 532.8v-2.0M112.37 289.2v2.0M119.88 532.8v-3.7M119.88 289.2v3.7M127.39 532.8v-2.0M127.39 289.2v2.0M134.9 532.8v-2.0M134.9 289.2v2.0M142.42 532.8v-2.0M142.42 289.2v2.0M149.93 532.8v-2.0M149.93 289.2v2.0M157.44 532.8v-3.7M157.44 289.2v3.7M164.95 532.8v-2.0M164.95 289.2v2.0M172.46 532.8v-2.0M172.46 289.2v2.0M179.98 532.8v-2.0M179.98 289.2v2.0M187.49 532.8v-2.0M187.49 289.2v2.0M195 532.8v-3.7M195 289.2v3.7M202.51 532.8v-2.0M202.51 289.2v2.0M210.02 532.8v-2.0M210.02 289.2v2.0M217.54 532.8v-2.0M217.54 289.2v2.0M225.05 532.8v-2.0M225.05 289.2v2.0M232.56 532.8v-3.7M232.56 289.2v3.7M240.07 532.8v-2.0M240.07 289.2v2.0M247.58 532.8v-2.0M247.58 289.2v2.0M255.1 532.8v-2.0M255.1 289.2v2.0M262.61 532.8v-2.0M262.61 289.2v2.0M270.12 532.8v-3.7M270.12 289.2v3.7M277.63 532.8v-2.0M277.63 289.2v2.0M285.14 532.8v-2.0M285.14 289.2v2.0M292.66 532.8v-2.0M292.66 289.2v2.0M300.17 532.8v-2.0M300.17 289.2v2.0M307.68 532.8v-3.7M307.68 289.2v3.7M315.19 532.8v-2.0M315.19 289.2v2.0M71.9 531.79h2.0M318.3 531.79h-2.0M71.9 524.32h2.0M318.3 524.32h-2.0M71.9 516.85h3.7M318.3 516.85h-3.7M71.9 509.38h2.0M318.3 509.38h-2.0M71.9 501.91h2.0M318.3 501.91h-2.0M71.9 494.44h2.0M318.3 494.44h-2.0M71.9 486.97h2.0M318.3 486.97h-2.0M71.9 479.5h3.7M318.3 479.5h-3.7M71.9 472.03h2.0M318.3 472.03h-2.0M71.9 464.56h2.0M318.3 464.56h-2.0M71.9 457.09h2.0M318.3 457.09h-2.0M71.9 449.62h2.0M318.3 449.62h-2.0M71.9 442.15h3.7M318.3 442.15h-3.7M71.9 434.68h2.0M318.3 434.68h-2.0M71.9 427.21h2.0M318.3 427.21h-2.0M71.9 419.74h2.0M318.3 419.74h-2.0M71.9 412.27h2.0M318.3 412.27h-2.0M71.9 404.8h3.7M318.3 404.8h-3.7M71.9 397.33h2.0M318.3 397.33h-2.0M71.9 389.86h2.0M318.3 389.86h-2.0M71.9 382.39h2.0M318.3 382.39h-2.0M71.9 374.92h2.0M318.3 374.92h-2.0M71.9 367.45h3.7M318.3 367.45h-3.7M71.9 359.98h2.0M318.3 359.98h-2.0M71.9 352.51h2.0M318.3 352.51h-2.0M71.9 345.04h2.0M318.3 345.04h-2.0M71.9 337.57h2.0M318.3 337.57h-2.0M71.9 330.1h3.7M318.3 330.1h-3.7M71.9 322.63h2.0M318.3 322.63h-2.0M71.9 315.16h2.0M318.3 315.16h-2.0M71.9 307.69h2.0M318.3 307.69h-2.0M71.9 300.22h2.0M318.3 300.22h-2.0M71.9 292.75h3.7M318.3 292.75h-3.7" stroke="#000" stroke-width="1" fill="none"/>
<rect x="71.9" y="289.2" width="246.4" height="243.6" fill="none" stroke="#000" stroke-width="1.1"/>
<text x="82.32" y="544.8" font-size="10.9" text-anchor="middle">−750</text>
<text x="119.88" y="544.8" font-size="10.9" text-anchor="middle">−500</text>
<text x="157.44" y="544.8" font-size="10.9" text-anchor="middle">−250</text>
<text x="195" y="544.8" font-size="10.9" text-anchor="middle">0</text>
<text x="232.56" y="544.8" font-size="10.9" text-anchor="middle">250</text>
<text x="270.12" y="544.8" font-size="10.9" text-anchor="middle">500</text>
<text x="307.68" y="544.8" font-size="10.9" text-anchor="middle">750</text>
<text x="68.5" y="520.75" font-size="10.9" text-anchor="end">−0.5</text>
<text x="68.5" y="483.4" font-size="10.9" text-anchor="end">0.0</text>
<text x="68.5" y="446.05" font-size="10.9" text-anchor="end">0.5</text>
<text x="68.5" y="408.7" font-size="10.9" text-anchor="end">1.0</text>
<text x="68.5" y="371.35" font-size="10.9" text-anchor="end">1.5</text>
<text x="68.5" y="334" font-size="10.9" text-anchor="end">2.0</text>
<text x="68.5" y="296.65" font-size="10.9" text-anchor="end">2.5</text>
<text x="195.1" y="559.9" font-size="11.65" text-anchor="middle">velocity [km<tspan dx="1.9">s</tspan><tspan dy="-4.2" font-size="8.05">−1</tspan><tspan dy="4.2">]</tspan></text>
<text transform="translate(34.5 411) rotate(-90)" font-size="11.65" text-anchor="middle">CO(2-1) flux [mJy]</text>
<clipPath id="cl379"><rect x="379.6" y="289.2" width="245.7" height="243.6"/></clipPath>
<g clip-path="url(#cl379)">
<path d="M376.98 440.2V472.52H380.72V440.2ZM380.72 440.2V422.63H384.47V440.2ZM384.47 440.2V405.33H388.21V440.2ZM388.21 440.2V450.3H391.96V440.2ZM391.96 440.2V413.33H395.7V440.2ZM395.7 440.2V439.39H399.45V440.2ZM399.45 440.2V522.01H403.19V440.2ZM403.19 440.2V409.82H406.94V440.2ZM406.94 440.2V429.49H410.69V440.2ZM410.69 440.2V425.01H414.43V440.2ZM414.43 440.2V493.41H418.18V440.2ZM418.18 440.2V411.44H421.92V440.2ZM421.92 440.2V462.26H425.67V440.2ZM425.67 440.2V431.39H429.41V440.2ZM429.41 440.2V471.39H433.16V440.2ZM433.16 440.2V432.69H436.9V440.2ZM436.9 440.2V422.63H440.65V440.2ZM440.65 440.2V431.39H444.39V440.2ZM444.39 440.2V386.63H448.14V440.2ZM448.14 440.2V416.53H451.89V440.2ZM553.01 440.2V521.4H556.76V440.2ZM556.76 440.2V378.39H560.51V440.2ZM560.51 440.2V416.24H564.25V440.2ZM564.25 440.2V328.7H568V440.2ZM568 440.2V394.39H571.74V440.2ZM571.74 440.2V458.14H575.49V440.2ZM575.49 440.2V460.28H579.23V440.2ZM579.23 440.2V365.26H582.98V440.2ZM582.98 440.2V498.5H586.72V440.2ZM586.72 440.2V437.17H590.47V440.2ZM590.47 440.2V461.49H594.21V440.2ZM594.21 440.2V493.12H597.96V440.2ZM597.96 440.2V434.95H601.71V440.2ZM601.71 440.2V441.61H605.45V440.2ZM605.45 440.2V421.74H609.2V440.2ZM609.2 440.2V427.07H612.94V440.2ZM612.94 440.2V472.92H616.69V440.2ZM616.69 440.2V401.01H620.43V440.2ZM620.43 440.2V359.8H624.18V440.2ZM624.18 440.2V359.4H627.92V440.2Z" fill="#808080" stroke="#808080" stroke-width=".3"/>
<path d="M451.89 440.2V502.82H455.63V440.2ZM455.63 440.2V378.23H459.38V440.2ZM459.38 440.2V427.07H463.12V440.2ZM463.12 440.2V400.69H466.87V440.2ZM466.87 440.2V322.43H470.61V440.2ZM470.61 440.2V332.33H474.36V440.2ZM474.36 440.2V394.47H478.1V440.2ZM478.1 440.2V318.76H481.85V440.2ZM481.85 440.2V346.27H485.6V440.2ZM485.6 440.2V339.89H489.34V440.2ZM489.34 440.2V395.11H493.09V440.2ZM493.09 440.2V330.31H496.83V440.2ZM496.83 440.2V300.42H500.58V440.2ZM500.58 440.2V307.57H504.32V440.2ZM504.32 440.2V443.51H508.07V440.2ZM508.07 440.2V383.11H511.81V440.2ZM511.81 440.2V455.19H515.56V440.2ZM515.56 440.2V353.46H519.3V440.2ZM519.3 440.2V403.88H523.05V440.2ZM523.05 440.2V373.54H526.8V440.2ZM526.8 440.2V403.44H530.54V440.2ZM530.54 440.2V347.52H534.29V440.2ZM534.29 440.2V362.63H538.03V440.2ZM538.03 440.2V382.15H541.78V440.2ZM541.78 440.2V428.28H545.52V440.2ZM545.52 440.2V352.29H549.27V440.2ZM549.27 440.2V376.65H553.01V440.2Z" fill="#f00" stroke="#f00" stroke-width=".3"/>
<path d="M376.98 472.52V472.52H380.72V422.63H384.47V405.33H388.21V450.3H391.96V413.33H395.7V439.39H399.45V522.01H403.19V409.82H406.94V429.49H410.69V425.01H414.43V493.41H418.18V411.44H421.92V462.26H425.67V431.39H429.41V471.39H433.16V432.69H436.9V422.63H440.65V431.39H444.39V386.63H448.14V416.53H451.89V502.82H455.63V378.23H459.38V427.07H463.12V400.69H466.87V322.43H470.61V332.33H474.36V394.47H478.1V318.76H481.85V346.27H485.6V339.89H489.34V395.11H493.09V330.31H496.83V300.42H500.58V307.57H504.32V443.51H508.07V383.11H511.81V455.19H515.56V353.46H519.3V403.88H523.05V373.54H526.8V403.44H530.54V347.52H534.29V362.63H538.03V382.15H541.78V428.28H545.52V352.29H549.27V376.65H553.01V521.4H556.76V378.39H560.51V416.24H564.25V328.7H568V394.39H571.74V458.14H575.49V460.28H579.23V365.26H582.98V498.5H586.72V437.17H590.47V461.49H594.21V493.12H597.96V434.95H601.71V441.61H605.45V421.74H609.2V427.07H612.94V472.92H616.69V401.01H620.43V359.8H624.18V359.4H627.92" fill="none" stroke="#111" stroke-width=".85" stroke-linejoin="miter"/>
<line x1="379.6" y1="440.2" x2="625.3" y2="440.2" stroke="#000" stroke-width="1"/>
</g>
<path d="M382.59 532.8v-2.0M382.59 289.2v2.0M390.08 532.8v-3.7M390.08 289.2v3.7M397.58 532.8v-2.0M397.58 289.2v2.0M405.07 532.8v-2.0M405.07 289.2v2.0M412.56 532.8v-2.0M412.56 289.2v2.0M420.05 532.8v-2.0M420.05 289.2v2.0M427.54 532.8v-3.7M427.54 289.2v3.7M435.03 532.8v-2.0M435.03 289.2v2.0M442.52 532.8v-2.0M442.52 289.2v2.0M450.01 532.8v-2.0M450.01 289.2v2.0M457.5 532.8v-2.0M457.5 289.2v2.0M465 532.8v-3.7M465 289.2v3.7M472.49 532.8v-2.0M472.49 289.2v2.0M479.98 532.8v-2.0M479.98 289.2v2.0M487.47 532.8v-2.0M487.47 289.2v2.0M494.96 532.8v-2.0M494.96 289.2v2.0M502.45 532.8v-3.7M502.45 289.2v3.7M509.94 532.8v-2.0M509.94 289.2v2.0M517.43 532.8v-2.0M517.43 289.2v2.0M524.92 532.8v-2.0M524.92 289.2v2.0M532.41 532.8v-2.0M532.41 289.2v2.0M539.9 532.8v-3.7M539.9 289.2v3.7M547.4 532.8v-2.0M547.4 289.2v2.0M554.89 532.8v-2.0M554.89 289.2v2.0M562.38 532.8v-2.0M562.38 289.2v2.0M569.87 532.8v-2.0M569.87 289.2v2.0M577.36 532.8v-3.7M577.36 289.2v3.7M584.85 532.8v-2.0M584.85 289.2v2.0M592.34 532.8v-2.0M592.34 289.2v2.0M599.83 532.8v-2.0M599.83 289.2v2.0M607.32 532.8v-2.0M607.32 289.2v2.0M614.82 532.8v-3.7M614.82 289.2v3.7M622.31 532.8v-2.0M622.31 289.2v2.0M379.6 529.08h2.0M625.3 529.08h-2.0M379.6 521h3.7M625.3 521h-3.7M379.6 512.92h2.0M625.3 512.92h-2.0M379.6 504.84h2.0M625.3 504.84h-2.0M379.6 496.76h2.0M625.3 496.76h-2.0M379.6 488.68h2.0M625.3 488.68h-2.0M379.6 480.6h3.7M625.3 480.6h-3.7M379.6 472.52h2.0M625.3 472.52h-2.0M379.6 464.44h2.0M625.3 464.44h-2.0M379.6 456.36h2.0M625.3 456.36h-2.0M379.6 448.28h2.0M625.3 448.28h-2.0M379.6 440.2h3.7M625.3 440.2h-3.7M379.6 432.12h2.0M625.3 432.12h-2.0M379.6 424.04h2.0M625.3 424.04h-2.0M379.6 415.96h2.0M625.3 415.96h-2.0M379.6 407.88h2.0M625.3 407.88h-2.0M379.6 399.8h3.7M625.3 399.8h-3.7M379.6 391.72h2.0M625.3 391.72h-2.0M379.6 383.64h2.0M625.3 383.64h-2.0M379.6 375.56h2.0M625.3 375.56h-2.0M379.6 367.48h2.0M625.3 367.48h-2.0M379.6 359.4h3.7M625.3 359.4h-3.7M379.6 351.32h2.0M625.3 351.32h-2.0M379.6 343.24h2.0M625.3 343.24h-2.0M379.6 335.16h2.0M625.3 335.16h-2.0M379.6 327.08h2.0M625.3 327.08h-2.0M379.6 319h3.7M625.3 319h-3.7M379.6 310.92h2.0M625.3 310.92h-2.0M379.6 302.84h2.0M625.3 302.84h-2.0M379.6 294.76h2.0M625.3 294.76h-2.0" stroke="#000" stroke-width="1" fill="none"/>
<rect x="379.6" y="289.2" width="245.7" height="243.6" fill="none" stroke="#000" stroke-width="1.1"/>
<text x="390.08" y="544.8" font-size="10.9" text-anchor="middle">−750</text>
<text x="427.54" y="544.8" font-size="10.9" text-anchor="middle">−500</text>
<text x="465" y="544.8" font-size="10.9" text-anchor="middle">−250</text>
<text x="502.45" y="544.8" font-size="10.9" text-anchor="middle">0</text>
<text x="539.9" y="544.8" font-size="10.9" text-anchor="middle">250</text>
<text x="577.36" y="544.8" font-size="10.9" text-anchor="middle">500</text>
<text x="614.82" y="544.8" font-size="10.9" text-anchor="middle">750</text>
<text x="375.7" y="524.9" font-size="10.9" text-anchor="end">−2</text>
<text x="375.7" y="484.5" font-size="10.9" text-anchor="end">−1</text>
<text x="375.7" y="444.1" font-size="10.9" text-anchor="end">0</text>
<text x="375.7" y="403.7" font-size="10.9" text-anchor="end">1</text>
<text x="375.7" y="363.3" font-size="10.9" text-anchor="end">2</text>
<text x="375.7" y="322.9" font-size="10.9" text-anchor="end">3</text>
<text x="502.45" y="559.9" font-size="11.65" text-anchor="middle">velocity [km<tspan dx="1.9">s</tspan><tspan dy="-4.2" font-size="8.05">−1</tspan><tspan dy="4.2">]</tspan></text>
<text transform="translate(352.9 411) rotate(-90)" font-size="11.65" text-anchor="middle">CO(5-4) flux [mJy]</text>
</svg>
</body></html>
